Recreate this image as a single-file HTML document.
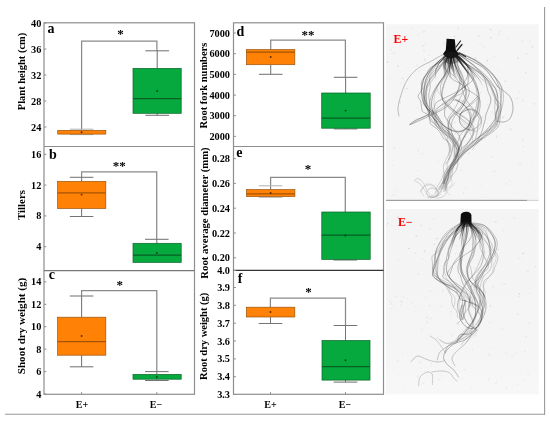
<!DOCTYPE html>
<html><head><meta charset="utf-8"><title>Figure</title>
<style>
html,body{margin:0;padding:0;background:#fff;}
body{width:550px;height:422px;overflow:hidden;}
svg{display:block;}
svg text{font-family:"Liberation Serif","DejaVu Serif",serif;font-weight:bold;}
</style></head><body>
<svg width="550" height="422" viewBox="0 0 550 422">
<rect width="550" height="422" fill="#fff"/>
<rect x="386" y="24.3" width="152.6" height="176.2" fill="#f5f5f5"/>
<defs><linearGradient id="bg2" x1="0" y1="0" x2="0" y2="1"><stop offset="0" stop-color="#f4f4f4"/><stop offset="0.8" stop-color="#f5f5f5"/><stop offset="1" stop-color="#f9f9f9"/></linearGradient></defs>
<rect x="386" y="209" width="152.6" height="185.3" fill="url(#bg2)"/>
<line x1="386" y1="200.3" x2="527" y2="200.3" stroke="#888" stroke-width="1"/><line x1="527" y1="200.3" x2="538.6" y2="200.3" stroke="#ccc" stroke-width="1"/>
<defs><linearGradient id="fd" x1="0" y1="0" x2="0" y2="1"><stop offset="0" stop-color="#111" stop-opacity="0.85"/><stop offset="0.5" stop-color="#111" stop-opacity="0.55"/><stop offset="1" stop-color="#111" stop-opacity="0"/></linearGradient></defs>
<filter id="bl" x="-5%" y="-5%" width="110%" height="110%"><feGaussianBlur stdDeviation="0.35"/></filter>
<g fill="none" stroke-linecap="round" stroke-linejoin="round" filter="url(#bl)">
<path d="M455.4 122.3l-0.9 0.2" stroke="#555" stroke-width="0.5" stroke-opacity="0.28"/>
<path d="M475.5 57.8l-0.0 1.2" stroke="#555" stroke-width="0.5" stroke-opacity="0.35"/>
<path d="M402.0 78.2l1.3 0.4" stroke="#555" stroke-width="0.5" stroke-opacity="0.32"/>
<path d="M394.2 194.9l-1.2 0.1" stroke="#555" stroke-width="0.5" stroke-opacity="0.30"/>
<path d="M411.5 28.6l-0.0 0.5" stroke="#555" stroke-width="0.5" stroke-opacity="0.20"/>
<path d="M424.0 31.2l0.1 0.9" stroke="#555" stroke-width="0.5" stroke-opacity="0.36"/>
<path d="M465.3 136.1l0.0 1.2" stroke="#555" stroke-width="0.5" stroke-opacity="0.26"/>
<path d="M429.4 197.6l-1.4 0.0" stroke="#555" stroke-width="0.5" stroke-opacity="0.33"/>
<path d="M435.0 65.5l0.3 0.4" stroke="#555" stroke-width="0.5" stroke-opacity="0.34"/>
<path d="M447.7 171.6l0.5 1.5" stroke="#555" stroke-width="0.5" stroke-opacity="0.36"/>
<path d="M388.1 62.1l-0.9 0.3" stroke="#555" stroke-width="0.5" stroke-opacity="0.40"/>
<path d="M447.2 38.6l-0.5 1.2" stroke="#555" stroke-width="0.5" stroke-opacity="0.22"/>
<path d="M401.0 83.2l-1.3 0.1" stroke="#555" stroke-width="0.5" stroke-opacity="0.18"/>
<path d="M424.7 43.4l1.3 0.3" stroke="#555" stroke-width="0.5" stroke-opacity="0.19"/>
<path d="M471.3 103.0l1.1 0.7" stroke="#555" stroke-width="0.5" stroke-opacity="0.18"/>
<path d="M483.9 46.0l0.2 0.6" stroke="#555" stroke-width="0.5" stroke-opacity="0.22"/>
<path d="M532.7 164.2l0.8 1.2" stroke="#555" stroke-width="0.5" stroke-opacity="0.20"/>
<path d="M446.7 173.0l-0.2 0.5" stroke="#555" stroke-width="0.5" stroke-opacity="0.40"/>
<path d="M419.8 70.4l-0.6 0.5" stroke="#555" stroke-width="0.5" stroke-opacity="0.22"/>
<path d="M398.9 41.5l-0.2 0.7" stroke="#555" stroke-width="0.5" stroke-opacity="0.30"/>
<path d="M443.4 104.0l-1.0 0.1" stroke="#555" stroke-width="0.5" stroke-opacity="0.29"/>
<path d="M517.1 57.4l1.3 0.7" stroke="#555" stroke-width="0.5" stroke-opacity="0.35"/>
<path d="M425.2 58.6l-1.0 1.1" stroke="#555" stroke-width="0.5" stroke-opacity="0.20"/>
<path d="M529.6 177.7l-0.3 0.9" stroke="#555" stroke-width="0.5" stroke-opacity="0.18"/>
<path d="M393.8 191.6l0.9 0.8" stroke="#555" stroke-width="0.5" stroke-opacity="0.21"/>
<path d="M510.7 128.6l0.4 0.5" stroke="#555" stroke-width="0.5" stroke-opacity="0.33"/>
<path d="M398.2 65.3l-0.3 1.4" stroke="#555" stroke-width="0.5" stroke-opacity="0.30"/>
<path d="M429.8 183.8l0.3 0.3" stroke="#555" stroke-width="0.5" stroke-opacity="0.22"/>
<path d="M454.4 36.4l0.7 0.4" stroke="#555" stroke-width="0.5" stroke-opacity="0.29"/>
<path d="M407.6 88.3l-1.5 0.5" stroke="#555" stroke-width="0.5" stroke-opacity="0.31"/>
<path d="M491.0 126.5l0.4 0.2" stroke="#555" stroke-width="0.5" stroke-opacity="0.15"/>
<path d="M523.6 146.6l-0.4 0.0" stroke="#555" stroke-width="0.5" stroke-opacity="0.31"/>
<path d="M459.9 151.6l0.9 1.3" stroke="#555" stroke-width="0.5" stroke-opacity="0.17"/>
<path d="M469.4 152.8l-1.2 0.4" stroke="#555" stroke-width="0.5" stroke-opacity="0.33"/>
<path d="M506.2 183.4l0.5 1.1" stroke="#555" stroke-width="0.5" stroke-opacity="0.38"/>
<path d="M517.8 97.8l-1.1 0.9" stroke="#555" stroke-width="0.5" stroke-opacity="0.29"/>
<path d="M481.1 91.8l-0.3 1.1" stroke="#555" stroke-width="0.5" stroke-opacity="0.17"/>
<path d="M483.3 196.9l-1.2 0.5" stroke="#555" stroke-width="0.5" stroke-opacity="0.25"/>
<path d="M497.5 125.9l0.3 1.4" stroke="#555" stroke-width="0.5" stroke-opacity="0.17"/>
<path d="M499.8 31.1l-0.3 0.9" stroke="#555" stroke-width="0.5" stroke-opacity="0.21"/>
<path d="M492.1 111.5l-0.5 1.4" stroke="#555" stroke-width="0.5" stroke-opacity="0.21"/>
<path d="M389.7 77.8l-0.3 0.5" stroke="#555" stroke-width="0.5" stroke-opacity="0.19"/>
<path d="M523.0 139.5l0.3 1.4" stroke="#555" stroke-width="0.5" stroke-opacity="0.23"/>
<path d="M487.2 60.1l0.3 1.3" stroke="#555" stroke-width="0.5" stroke-opacity="0.38"/>
<path d="M519.2 92.1l-0.2 0.8" stroke="#555" stroke-width="0.5" stroke-opacity="0.18"/>
<path d="M462.0 170.0l-1.1 0.6" stroke="#555" stroke-width="0.5" stroke-opacity="0.39"/>
<path d="M429.2 55.1l0.1 0.7" stroke="#555" stroke-width="0.5" stroke-opacity="0.20"/>
<path d="M449.7 133.6l0.0 0.8" stroke="#555" stroke-width="0.5" stroke-opacity="0.36"/>
<path d="M534.3 103.8l0.4 0.1" stroke="#555" stroke-width="0.5" stroke-opacity="0.37"/>
<path d="M394.2 147.9l-0.2 0.8" stroke="#555" stroke-width="0.5" stroke-opacity="0.35"/>
<path d="M390.8 49.4l0.1 0.4" stroke="#555" stroke-width="0.5" stroke-opacity="0.36"/>
<path d="M423.4 50.2l1.1 0.2" stroke="#555" stroke-width="0.5" stroke-opacity="0.26"/>
<path d="M481.9 138.7l-1.3 0.9" stroke="#555" stroke-width="0.5" stroke-opacity="0.32"/>
<path d="M417.7 107.7l0.3 0.2" stroke="#555" stroke-width="0.5" stroke-opacity="0.27"/>
<path d="M494.4 56.8l0.5 0.6" stroke="#555" stroke-width="0.5" stroke-opacity="0.32"/>
<path d="M465.5 131.7l-0.6 0.6" stroke="#555" stroke-width="0.5" stroke-opacity="0.35"/>
<path d="M523.0 41.0l-1.2 0.3" stroke="#555" stroke-width="0.5" stroke-opacity="0.18"/>
<path d="M455.6 133.6l-0.8 0.2" stroke="#555" stroke-width="0.5" stroke-opacity="0.29"/>
<path d="M519.0 163.0l-0.9 0.2" stroke="#555" stroke-width="0.5" stroke-opacity="0.31"/>
<path d="M418.5 150.2l-1.0 0.6" stroke="#555" stroke-width="0.5" stroke-opacity="0.33"/>
<path d="M419.8 180.8l-1.6 0.1" stroke="#555" stroke-width="0.5" stroke-opacity="0.28"/>
<path d="M505.8 81.1l-1.4 0.4" stroke="#555" stroke-width="0.5" stroke-opacity="0.24"/>
<path d="M400.3 101.8l-0.2 1.3" stroke="#555" stroke-width="0.5" stroke-opacity="0.27"/>
<path d="M392.2 165.2l1.3 0.3" stroke="#555" stroke-width="0.5" stroke-opacity="0.19"/>
<path d="M437.9 161.5l0.5 0.2" stroke="#555" stroke-width="0.5" stroke-opacity="0.28"/>
<path d="M495.8 170.5l-0.9 1.3" stroke="#555" stroke-width="0.5" stroke-opacity="0.27"/>
<path d="M529.4 40.8l0.8 0.7" stroke="#555" stroke-width="0.5" stroke-opacity="0.22"/>
<path d="M496.6 135.9l-0.1 1.4" stroke="#555" stroke-width="0.5" stroke-opacity="0.29"/>
<path d="M434.4 91.6l-1.3 0.7" stroke="#555" stroke-width="0.5" stroke-opacity="0.20"/>
<path d="M514.8 192.6l-0.1 1.1" stroke="#555" stroke-width="0.5" stroke-opacity="0.20"/>
<path d="M467.8 112.5l-0.1 0.4" stroke="#555" stroke-width="0.5" stroke-opacity="0.39"/>
<path d="M464.9 94.9l-0.9 0.6" stroke="#555" stroke-width="0.5" stroke-opacity="0.27"/>
<path d="M491.0 37.3l-0.1 0.9" stroke="#555" stroke-width="0.5" stroke-opacity="0.39"/>
<path d="M525.6 72.3l0.0 0.6" stroke="#555" stroke-width="0.5" stroke-opacity="0.26"/>
<path d="M509.5 180.9l0.1 0.8" stroke="#555" stroke-width="0.5" stroke-opacity="0.20"/>
<path d="M480.1 185.1l1.2 0.5" stroke="#555" stroke-width="0.5" stroke-opacity="0.16"/>
<path d="M416.9 65.1l-0.4 0.7" stroke="#555" stroke-width="0.5" stroke-opacity="0.24"/>
<path d="M480.3 44.0l-0.4 0.4" stroke="#555" stroke-width="0.5" stroke-opacity="0.28"/>
<path d="M425.3 60.0l-0.1 0.9" stroke="#555" stroke-width="0.5" stroke-opacity="0.24"/>
<path d="M449.6 117.0l0.6 0.3" stroke="#555" stroke-width="0.5" stroke-opacity="0.31"/>
<path d="M483.1 117.1l-1.0 0.5" stroke="#555" stroke-width="0.5" stroke-opacity="0.36"/>
<path d="M422.7 153.4l-1.2 0.8" stroke="#555" stroke-width="0.5" stroke-opacity="0.23"/>
<path d="M434.9 184.7l1.2 1.0" stroke="#555" stroke-width="0.5" stroke-opacity="0.37"/>
<path d="M408.0 67.2l-0.5 0.5" stroke="#555" stroke-width="0.5" stroke-opacity="0.17"/>
<path d="M512.0 98.5l-0.4 0.3" stroke="#555" stroke-width="0.5" stroke-opacity="0.25"/>
<path d="M490.1 29.1l1.0 0.7" stroke="#555" stroke-width="0.5" stroke-opacity="0.38"/>
<path d="M532.3 45.9l-0.0 1.3" stroke="#555" stroke-width="0.5" stroke-opacity="0.28"/>
<path d="M490.2 58.5l0.5 0.1" stroke="#555" stroke-width="0.5" stroke-opacity="0.16"/>
<path d="M470.2 114.5l-0.1 0.6" stroke="#555" stroke-width="0.5" stroke-opacity="0.20"/>
<path d="M418.4 170.5l-1.5 0.0" stroke="#555" stroke-width="0.5" stroke-opacity="0.17"/>
<path d="M397.2 189.7l0.2 1.3" stroke="#555" stroke-width="0.5" stroke-opacity="0.23"/>
<path d="M457.6 114.6l0.2 1.1" stroke="#555" stroke-width="0.5" stroke-opacity="0.15"/>
<path d="M492.5 171.2l0.8 0.5" stroke="#555" stroke-width="0.5" stroke-opacity="0.33"/>
<path d="M448.4 59.6l0.9 0.5" stroke="#555" stroke-width="0.5" stroke-opacity="0.15"/>
<path d="M521.1 163.9l-0.9 1.1" stroke="#555" stroke-width="0.5" stroke-opacity="0.31"/>
<path d="M448.3 129.1l-0.0 1.6" stroke="#555" stroke-width="0.5" stroke-opacity="0.35"/>
<path d="M426.5 182.7l-0.9 1.0" stroke="#555" stroke-width="0.5" stroke-opacity="0.35"/>
<path d="M448.4 180.2l-1.1 0.5" stroke="#555" stroke-width="0.5" stroke-opacity="0.34"/>
<path d="M502.0 95.8l-0.3 0.4" stroke="#555" stroke-width="0.5" stroke-opacity="0.24"/>
<path d="M457.9 27.8l0.5 1.0" stroke="#555" stroke-width="0.5" stroke-opacity="0.31"/>
<path d="M422.6 188.5l-0.4 0.7" stroke="#555" stroke-width="0.5" stroke-opacity="0.31"/>
<path d="M472.9 117.7l0.5 1.5" stroke="#555" stroke-width="0.5" stroke-opacity="0.31"/>
<path d="M492.5 157.0l-0.4 0.0" stroke="#555" stroke-width="0.5" stroke-opacity="0.30"/>
<path d="M498.1 70.1l0.1 0.4" stroke="#555" stroke-width="0.5" stroke-opacity="0.20"/>
<path d="M444.0 42.9l1.0 1.1" stroke="#555" stroke-width="0.5" stroke-opacity="0.29"/>
<path d="M463.7 192.3l-0.3 1.6" stroke="#555" stroke-width="0.5" stroke-opacity="0.31"/>
<path d="M508.6 39.1l-0.4 1.3" stroke="#555" stroke-width="0.5" stroke-opacity="0.16"/>
<path d="M526.6 53.5l0.1 0.6" stroke="#555" stroke-width="0.5" stroke-opacity="0.27"/>
<path d="M479.1 36.1l-0.9 0.2" stroke="#555" stroke-width="0.5" stroke-opacity="0.28"/>
<path d="M477.1 88.9l0.7 0.9" stroke="#555" stroke-width="0.5" stroke-opacity="0.29"/>
<path d="M430.2 149.3l0.2 0.3" stroke="#555" stroke-width="0.5" stroke-opacity="0.21"/>
<path d="M394.4 52.9l-0.6 0.6" stroke="#555" stroke-width="0.5" stroke-opacity="0.37"/>
<path d="M499.5 34.6l-1.5 0.1" stroke="#555" stroke-width="0.5" stroke-opacity="0.17"/>
<path d="M522.9 99.9l0.1 1.6" stroke="#555" stroke-width="0.5" stroke-opacity="0.21"/>
<path d="M466.0 187.2l-0.6 0.7" stroke="#555" stroke-width="0.5" stroke-opacity="0.39"/>
<path d="M509.7 129.8l1.1 0.4" stroke="#555" stroke-width="0.5" stroke-opacity="0.26"/>
<path d="M418.3 35.0l-0.0 0.5" stroke="#555" stroke-width="0.5" stroke-opacity="0.26"/>
<path d="M487.5 104.4l0.7 0.8" stroke="#555" stroke-width="0.5" stroke-opacity="0.25"/>
<path d="M503.9 117.3l-1.5 0.0" stroke="#555" stroke-width="0.5" stroke-opacity="0.33"/>
<path d="M423.5 45.6l-1.3 0.4" stroke="#555" stroke-width="0.5" stroke-opacity="0.31"/>
<path d="M449.7 53.9C449.1 54.6 447.6 56.6 445.9 58.0C444.2 59.4 441.8 60.9 439.7 62.2C437.6 63.6 435.0 64.5 433.2 66.1C431.5 67.7 430.7 70.0 429.3 71.7C427.9 73.5 425.7 75.2 424.7 76.8C423.7 78.4 423.9 79.8 423.4 81.5C422.9 83.2 421.9 85.3 421.6 87.0C421.2 88.7 421.0 89.9 421.3 91.6C421.6 93.3 422.8 95.3 423.2 97.0C423.5 98.8 423.0 100.7 423.4 102.2C423.7 103.7 424.4 104.6 425.3 106.1C426.1 107.6 427.6 109.6 428.5 111.2C429.4 112.8 429.4 114.0 430.6 115.7C431.9 117.4 434.7 119.3 436.2 121.2C437.7 123.0 438.2 125.1 439.4 126.9C440.6 128.8 442.1 130.7 443.4 132.3C444.7 133.8 446.4 134.8 447.2 136.5C447.9 138.1 447.4 140.4 447.8 142.2C448.1 144.0 449.0 145.4 449.2 147.1C449.5 148.8 449.3 151.4 449.3 152.3" stroke="#1a1a1a" stroke-width="0.63" stroke-opacity="0.31"/>
<path d="M452.0 52.2C451.5 53.2 450.6 56.0 448.9 58.0C447.2 60.0 444.1 62.1 441.8 64.0C439.5 65.9 437.1 67.8 435.2 69.6C433.3 71.5 431.5 73.4 430.6 75.1C429.6 76.7 429.6 77.9 429.5 79.8C429.5 81.7 430.2 84.7 430.2 86.4C430.2 88.1 429.9 88.7 429.7 90.0C429.4 91.4 428.9 93.2 428.8 94.8C428.7 96.4 428.9 98.0 429.1 99.6C429.3 101.2 429.8 102.6 429.9 104.3C430.0 106.0 429.7 108.0 429.5 109.8C429.4 111.7 428.9 113.8 429.0 115.6C429.1 117.3 429.0 118.6 430.2 120.2C431.3 121.8 434.2 123.6 435.9 125.2C437.5 126.8 438.8 128.0 440.0 129.6C441.3 131.2 442.4 132.9 443.6 134.8C444.8 136.7 446.2 139.1 447.2 140.9C448.1 142.7 448.8 143.7 449.3 145.5C449.8 147.4 450.5 150.2 450.4 151.8C450.2 153.3 449.2 153.2 448.3 154.8C447.4 156.5 445.8 159.9 445.0 161.6C444.2 163.4 443.7 164.0 443.5 165.4C443.2 166.7 443.6 168.3 443.6 169.8C443.6 171.3 443.6 172.7 443.3 174.3C442.9 176.0 442.2 177.9 441.4 179.6C440.6 181.3 439.4 183.1 438.5 184.6C437.7 186.2 436.5 188.1 436.1 188.7" stroke="#1a1a1a" stroke-width="0.49" stroke-opacity="0.47"/>
<path d="M451.8 53.6C451.0 54.4 449.0 56.3 446.7 58.0C444.3 59.7 440.4 61.9 437.6 63.6C434.8 65.3 431.7 66.4 429.9 68.2C428.0 70.0 427.6 72.8 426.5 74.4C425.5 76.1 424.6 76.8 423.7 78.2C422.8 79.7 421.5 81.3 421.2 83.0C421.0 84.7 422.2 87.0 422.2 88.4C422.1 89.8 421.6 90.2 420.9 91.5C420.2 92.8 418.2 94.7 418.1 96.3C418.1 97.9 420.0 99.5 420.6 101.1C421.1 102.6 421.0 103.9 421.3 105.6C421.6 107.4 421.5 110.1 422.6 111.5C423.6 113.0 426.3 113.1 427.5 114.3C428.8 115.5 429.4 117.2 429.9 118.9C430.4 120.5 429.5 122.5 430.7 124.1C431.8 125.7 434.9 127.0 436.6 128.5C438.2 130.0 439.3 131.4 440.4 133.0C441.5 134.6 441.8 136.5 443.2 138.1C444.6 139.7 447.6 140.7 448.8 142.4C450.1 144.0 450.7 146.1 450.7 147.9C450.7 149.7 449.1 151.4 448.9 153.1C448.7 154.8 449.8 156.2 449.3 158.0C448.7 159.9 446.2 163.1 445.6 164.1" stroke="#1a1a1a" stroke-width="0.52" stroke-opacity="0.50"/>
<path d="M453.5 53.1C453.7 54.0 453.4 56.5 454.6 58.0C455.9 59.5 458.8 60.7 461.2 62.2C463.6 63.7 466.6 65.1 469.1 66.8C471.5 68.6 473.9 70.7 476.0 72.7C478.0 74.7 479.5 77.0 481.3 78.6C483.0 80.2 484.8 81.1 486.4 82.6C487.9 84.0 489.9 85.8 490.8 87.2C491.8 88.7 491.5 89.7 492.1 91.3C492.6 93.0 493.3 95.5 494.2 97.0C495.1 98.5 496.1 98.9 497.2 100.3C498.3 101.7 500.2 103.7 500.8 105.5C501.4 107.2 501.1 109.1 500.8 111.0C500.4 113.0 499.4 115.2 498.8 117.1C498.1 119.0 497.8 120.5 496.8 122.4C495.8 124.2 494.8 126.3 492.9 128.1C491.0 130.0 487.5 131.6 485.4 133.4C483.2 135.3 481.6 137.4 480.1 139.3C478.5 141.2 477.6 143.1 476.2 144.9C474.9 146.6 472.6 148.9 471.9 149.7" stroke="#1a1a1a" stroke-width="0.55" stroke-opacity="0.33"/>
<path d="M450.5 52.7C451.5 53.5 454.5 56.3 456.9 58.0C459.4 59.7 462.8 61.5 465.3 63.1C467.9 64.7 470.1 65.9 472.3 67.4C474.5 69.0 476.7 70.8 478.6 72.5C480.4 74.2 481.7 76.0 483.3 77.7C485.0 79.4 487.5 81.2 488.7 82.8C489.9 84.4 489.8 85.5 490.6 87.1C491.4 88.7 492.6 90.9 493.5 92.4C494.3 93.9 495.3 94.6 495.6 96.1C495.9 97.7 494.6 99.8 495.1 101.8C495.5 103.8 498.2 106.2 498.2 108.1C498.2 110.0 495.6 111.4 495.3 113.2C494.9 114.9 496.5 116.8 496.0 118.4C495.5 120.0 493.7 120.9 492.3 122.7C490.9 124.5 488.8 127.3 487.6 129.1C486.4 130.8 486.8 131.3 485.1 132.9C483.3 134.6 478.3 137.9 477.0 138.9" stroke="#1a1a1a" stroke-width="0.61" stroke-opacity="0.28"/>
<path d="M451.1 53.1C451.9 53.9 454.0 56.3 456.4 58.0C458.8 59.7 462.4 61.7 465.2 63.6C468.0 65.4 470.7 67.4 473.2 69.1C475.8 70.8 478.3 72.1 480.6 73.7C482.8 75.3 485.0 77.0 486.7 78.6C488.4 80.3 489.4 81.8 490.9 83.5C492.4 85.2 494.9 87.0 495.9 88.9C497.0 90.8 497.1 93.3 497.3 95.0C497.5 96.7 496.7 97.4 497.0 99.2C497.2 101.0 498.8 104.1 498.8 105.9C498.8 107.7 497.4 108.6 497.0 110.1C496.5 111.6 496.3 112.9 496.1 114.8C495.9 116.7 496.7 119.7 495.9 121.6C495.1 123.4 492.7 124.6 491.5 126.1C490.3 127.7 490.2 129.1 488.8 131.0C487.4 132.9 484.8 135.9 482.8 137.6C480.8 139.3 478.6 139.6 476.9 141.1C475.2 142.6 474.6 144.7 472.7 146.4C470.8 148.1 467.9 149.6 465.7 151.4C463.5 153.2 460.8 155.5 459.4 157.3C458.0 159.0 458.3 160.1 457.3 161.8C456.2 163.6 453.9 165.7 453.1 167.8C452.3 169.9 452.7 172.3 452.3 174.3C451.9 176.2 451.5 177.7 450.7 179.4C449.8 181.1 448.1 182.7 447.2 184.5C446.4 186.3 445.7 189.4 445.4 190.3" stroke="#1a1a1a" stroke-width="0.68" stroke-opacity="0.38"/>
<path d="M449.4 52.9C450.8 53.7 454.8 56.2 457.6 58.0C460.4 59.8 463.3 61.7 466.0 63.4C468.7 65.1 471.1 66.5 473.6 68.2C476.1 69.8 479.1 71.6 480.9 73.2C482.8 74.9 483.7 76.6 484.5 78.1C485.3 79.6 485.2 80.7 485.6 82.2C486.1 83.7 486.6 85.4 487.0 87.0C487.4 88.7 487.7 90.5 488.3 92.2C488.9 93.9 490.3 95.8 490.6 97.4C491.0 99.1 490.9 100.5 490.6 102.3C490.2 104.0 489.4 105.7 488.6 107.8C487.9 109.8 486.6 112.5 486.0 114.4C485.5 116.3 485.6 117.3 485.3 119.1C484.9 120.8 484.2 122.9 483.7 124.7C483.2 126.6 482.9 128.5 482.3 130.4C481.7 132.2 481.0 133.9 480.1 135.7C479.2 137.5 478.4 139.6 477.0 141.2C475.5 142.8 473.6 143.6 471.6 145.3C469.6 147.0 466.7 149.5 464.8 151.2C462.9 152.9 461.3 154.0 460.2 155.7C459.0 157.3 458.2 159.7 457.8 161.1C457.4 162.6 458.2 162.7 457.8 164.4C457.4 166.1 456.7 169.2 455.6 171.2C454.5 173.2 452.5 174.5 451.1 176.2C449.7 177.9 448.2 179.6 447.4 181.2C446.5 182.9 446.3 184.4 446.0 186.0C445.7 187.6 445.7 190.1 445.7 190.9" stroke="#1a1a1a" stroke-width="0.57" stroke-opacity="0.50"/>
<path d="M453.1 53.9C452.4 54.6 450.2 56.4 449.4 58.0C448.6 59.6 448.6 61.8 448.2 63.7C447.9 65.5 447.8 67.2 447.1 69.1C446.5 71.0 445.2 73.4 444.5 74.9C443.9 76.4 443.7 76.8 443.0 78.1C442.3 79.4 441.3 81.2 440.3 82.8C439.3 84.4 437.3 86.2 437.0 87.8C436.8 89.5 437.8 91.0 438.8 92.7C439.8 94.3 441.8 96.3 442.9 97.7C444.0 99.0 444.0 99.3 445.3 100.9C446.7 102.5 449.4 105.1 451.2 107.1C453.1 109.2 455.2 111.2 456.5 113.1C457.8 115.0 458.0 116.8 459.2 118.3C460.3 119.9 461.9 120.6 463.5 122.5C465.2 124.3 467.9 127.4 469.0 129.3C470.1 131.1 469.6 132.2 470.2 133.6C470.7 135.0 472.1 136.2 472.4 137.7C472.8 139.2 472.3 141.9 472.2 142.7" stroke="#1a1a1a" stroke-width="0.47" stroke-opacity="0.27"/>
<path d="M453.0 53.7C451.7 54.4 446.9 56.5 445.3 58.0C443.7 59.5 443.9 61.2 443.7 62.7C443.4 64.1 443.1 65.3 443.8 66.8C444.6 68.3 446.3 69.9 448.2 71.6C450.1 73.3 453.3 75.0 455.2 76.9C457.1 78.8 458.0 81.3 459.6 83.0C461.2 84.7 464.2 85.5 464.6 87.1C465.1 88.8 464.2 91.2 462.4 92.8C460.7 94.5 456.6 95.6 454.0 97.1C451.4 98.7 449.7 100.2 446.8 102.1C443.9 104.0 438.9 106.7 436.6 108.6C434.3 110.6 433.4 112.3 432.9 113.9C432.5 115.4 433.8 116.7 434.1 118.1C434.4 119.4 434.2 120.5 434.8 122.1C435.4 123.6 436.3 125.6 437.8 127.4C439.3 129.2 442.3 131.5 444.0 133.0C445.7 134.6 446.6 135.3 447.8 136.8C449.0 138.2 449.7 139.7 451.2 141.7C452.6 143.7 455.6 147.1 456.5 148.8C457.4 150.5 456.7 150.6 456.5 152.0C456.3 153.5 455.5 155.5 455.2 157.4C455.0 159.3 455.7 161.7 455.1 163.4C454.5 165.2 452.6 166.3 451.8 167.9C451.0 169.5 450.3 171.0 450.2 172.9C450.0 174.7 451.3 177.1 450.9 178.9C450.5 180.6 448.6 181.7 447.8 183.5C447.1 185.2 446.5 188.4 446.3 189.4" stroke="#1a1a1a" stroke-width="0.62" stroke-opacity="0.34"/>
<path d="M452.4 53.5C453.8 54.2 458.6 56.3 460.9 58.0C463.2 59.7 464.8 61.6 466.0 63.5C467.2 65.3 467.7 67.4 468.0 68.9C468.4 70.5 468.3 71.4 468.1 73.0C467.9 74.6 467.4 76.7 466.6 78.4C465.9 80.0 464.4 81.3 463.6 83.0C462.9 84.6 462.0 86.3 462.1 88.3C462.1 90.3 463.2 92.9 463.9 94.9C464.7 96.9 465.7 98.8 466.5 100.3C467.4 101.8 468.0 102.4 469.0 103.8C470.0 105.1 471.3 106.5 472.6 108.2C473.8 109.9 475.4 112.1 476.5 113.8C477.6 115.4 478.8 116.7 479.1 118.3C479.4 119.8 478.5 121.4 478.2 123.1C477.9 124.9 477.8 127.2 477.6 128.9C477.3 130.6 477.3 131.6 476.9 133.4C476.4 135.2 476.1 138.1 474.8 139.9C473.5 141.7 470.8 142.6 469.1 144.2C467.4 145.8 465.8 147.7 464.6 149.5C463.3 151.3 462.7 153.5 461.6 154.9C460.6 156.4 459.8 156.6 458.4 158.2C457.0 159.8 454.5 162.9 453.2 164.6C451.8 166.2 450.9 166.6 450.2 168.0C449.4 169.4 449.1 171.0 448.7 172.8C448.3 174.6 448.4 177.1 447.9 178.7C447.4 180.2 446.8 180.8 445.8 182.1C444.7 183.5 442.9 185.4 441.8 186.8C440.6 188.2 439.4 189.7 438.9 190.3" stroke="#1a1a1a" stroke-width="0.53" stroke-opacity="0.48"/>
<path d="M450.3 52.3C451.4 53.3 455.2 56.1 457.0 58.0C458.7 59.9 459.5 61.7 460.8 63.5C462.1 65.3 463.6 67.2 464.7 68.8C465.9 70.5 467.1 71.7 467.7 73.4C468.3 75.1 468.2 77.2 468.2 79.0C468.1 80.8 468.5 82.6 467.4 84.3C466.3 85.9 463.5 87.3 461.6 88.9C459.7 90.6 457.7 92.4 455.9 94.0C454.1 95.6 452.4 96.9 450.7 98.5C449.0 100.1 446.5 101.7 445.6 103.6C444.6 105.4 445.1 107.7 444.9 109.6C444.7 111.4 444.1 113.2 444.4 114.7C444.6 116.2 445.3 117.0 446.2 118.4C447.1 119.7 448.7 121.5 449.7 123.0C450.6 124.4 450.9 125.7 451.9 127.1C452.8 128.4 454.2 129.5 455.4 130.9C456.6 132.4 458.4 133.9 459.2 135.8C460.1 137.7 460.1 140.4 460.5 142.2C460.9 143.9 461.8 144.6 461.8 146.1C461.8 147.7 461.1 149.8 460.6 151.4C460.0 153.0 459.1 154.1 458.5 155.8C458.0 157.5 457.8 160.0 457.1 161.5C456.4 162.9 455.1 163.3 454.4 164.6C453.6 165.8 453.2 167.2 452.5 169.0C451.7 170.7 451.0 173.1 450.0 175.1C449.0 177.1 447.3 179.4 446.5 181.0C445.7 182.6 446.1 183.6 445.2 184.9C444.4 186.2 442.1 188.1 441.4 188.8" stroke="#1a1a1a" stroke-width="0.54" stroke-opacity="0.53"/>
<path d="M452.1 53.2C452.4 54.0 453.0 56.5 453.5 58.0C454.0 59.5 454.5 60.9 455.3 62.4C456.1 63.9 457.4 65.6 458.2 67.0C459.1 68.4 459.9 69.2 460.6 70.8C461.3 72.4 461.8 74.6 462.4 76.6C462.9 78.6 463.5 81.1 464.0 82.8C464.5 84.6 465.5 85.4 465.4 87.0C465.3 88.5 464.4 90.2 463.5 92.1C462.6 94.0 461.1 96.1 460.1 98.2C459.0 100.2 457.8 102.7 457.0 104.4C456.1 106.1 455.6 107.2 454.8 108.5C454.1 109.8 453.4 111.0 452.4 112.4C451.4 113.7 449.8 115.0 449.0 116.6C448.1 118.1 447.3 120.1 447.3 121.8C447.3 123.4 448.2 125.1 448.8 126.7C449.4 128.2 450.5 129.7 451.2 131.2C451.9 132.7 452.6 134.1 452.9 135.8C453.3 137.4 453.3 139.6 453.3 141.2C453.2 142.8 452.7 144.1 452.6 145.6C452.5 147.0 452.8 148.3 452.5 150.1C452.2 151.9 451.5 154.3 450.8 156.1C450.1 158.0 449.0 159.8 448.4 161.2C447.8 162.7 447.3 163.5 447.1 164.8C446.9 166.1 447.2 167.5 447.3 169.0C447.4 170.5 448.0 172.0 447.8 173.8C447.6 175.6 447.1 177.9 446.2 179.6C445.3 181.4 443.5 182.7 442.2 184.2C440.9 185.6 439.2 187.5 438.6 188.2" stroke="#1a1a1a" stroke-width="0.61" stroke-opacity="0.33"/>
<path d="M451.4 53.9C452.8 54.5 457.3 56.4 459.6 58.0C462.0 59.6 463.7 61.8 465.4 63.7C467.0 65.6 468.7 67.5 469.7 69.2C470.7 70.9 470.8 72.3 471.5 73.9C472.1 75.4 474.0 76.6 473.5 78.3C473.1 80.0 470.7 82.2 468.8 83.9C466.9 85.5 464.8 86.7 462.2 88.4C459.6 90.0 456.4 92.1 453.3 93.7C450.3 95.4 446.8 96.8 444.0 98.2C441.2 99.7 438.1 100.9 436.4 102.5C434.7 104.2 434.8 106.4 434.0 108.2C433.2 110.0 431.8 111.5 431.8 113.2C431.8 115.0 432.6 116.9 434.0 118.7C435.4 120.5 438.7 122.0 440.3 123.8C441.9 125.6 441.9 127.8 443.4 129.4C444.9 131.1 447.5 132.1 449.4 133.8C451.3 135.4 453.8 137.2 454.8 139.1C455.7 141.0 454.7 143.6 455.2 145.3C455.6 146.9 457.1 148.6 457.4 149.3" stroke="#1a1a1a" stroke-width="0.69" stroke-opacity="0.36"/>
<path d="M449.4 52.8C450.0 53.7 452.0 56.2 452.8 58.0C453.7 59.8 453.8 61.9 454.5 63.5C455.2 65.2 456.1 66.5 457.3 68.1C458.4 69.7 460.5 71.5 461.5 73.2C462.5 74.8 463.0 76.4 463.4 78.1C463.8 79.9 464.2 81.8 463.9 83.5C463.7 85.3 463.2 87.0 461.9 88.7C460.6 90.5 458.1 92.5 455.8 94.3C453.6 96.1 451.0 97.8 448.5 99.7C446.0 101.5 442.6 103.7 440.6 105.5C438.7 107.2 437.7 108.2 436.9 109.9C436.1 111.6 436.1 113.7 436.0 115.7C435.9 117.6 435.9 120.0 436.3 121.6C436.6 123.2 437.0 123.7 438.2 125.2C439.3 126.6 441.4 128.8 443.1 130.3C444.8 131.8 446.5 132.5 448.2 134.3C449.9 136.1 452.3 139.1 453.3 141.0C454.2 142.9 453.8 143.9 454.0 145.6C454.2 147.4 454.3 149.6 454.4 151.5C454.5 153.3 454.7 154.7 454.4 156.7C454.1 158.7 453.3 161.7 452.7 163.5C452.1 165.2 451.3 166.0 450.7 167.2C450.1 168.3 449.3 168.8 448.9 170.3C448.5 171.8 448.4 174.2 448.3 176.0C448.1 177.8 448.5 179.4 448.1 181.0C447.8 182.6 447.0 183.8 446.2 185.5C445.5 187.2 443.9 190.4 443.5 191.3" stroke="#1a1a1a" stroke-width="0.47" stroke-opacity="0.35"/>
<path d="M452.0 52.9C451.2 53.7 448.5 56.4 447.5 58.0C446.5 59.6 446.5 60.8 446.0 62.2C445.6 63.6 444.8 64.9 444.9 66.3C445.0 67.7 446.0 69.3 446.7 70.7C447.3 72.1 447.7 73.3 448.8 74.8C449.9 76.4 451.4 78.4 453.4 79.9C455.4 81.4 458.8 82.3 461.0 83.9C463.2 85.5 464.8 87.9 466.7 89.4C468.6 90.8 470.5 91.3 472.5 92.7C474.5 94.1 477.6 95.9 478.9 97.7C480.2 99.4 480.1 101.3 480.3 103.2C480.4 105.2 480.0 107.5 479.6 109.4C479.2 111.3 479.0 113.3 477.9 114.8C476.8 116.2 474.6 116.7 473.2 118.4C471.8 120.0 470.8 122.6 469.5 124.4C468.2 126.2 467.0 127.1 465.4 129.1C463.8 131.0 461.0 133.8 459.7 135.9C458.5 137.9 459.1 139.3 458.0 141.2C456.8 143.1 453.9 145.7 452.9 147.3C451.9 148.9 452.1 149.2 451.7 150.5C451.4 151.8 451.4 153.5 450.9 155.0C450.3 156.5 448.9 158.8 448.5 159.6" stroke="#1a1a1a" stroke-width="0.69" stroke-opacity="0.37"/>
<path d="M449.3 53.7C448.2 55.5 445.3 61.0 442.6 64.7C440.0 68.4 435.8 72.4 433.2 75.9C430.6 79.3 428.4 81.5 427.0 85.5C425.7 89.4 424.6 95.4 424.9 99.7C425.2 104.1 426.7 107.6 428.8 111.5C430.9 115.4 434.7 119.8 437.6 123.1C440.4 126.4 443.1 128.7 445.8 131.5C448.5 134.3 451.6 136.9 453.8 139.8C455.9 142.8 458.7 145.6 458.9 149.1C459.0 152.6 456.6 156.9 454.7 160.8C452.9 164.8 449.7 168.8 447.9 172.6C446.1 176.4 444.7 181.7 444.1 183.5" stroke="#1a1a1a" stroke-width="0.58" stroke-opacity="0.53"/>
<path d="M449.3 53.7C447.9 55.7 443.3 61.8 440.7 66.0C438.0 70.1 435.6 75.0 433.4 78.6C431.2 82.3 428.5 83.9 427.3 87.8C426.2 91.7 426.3 97.5 426.6 101.9C426.8 106.3 427.0 110.2 428.6 114.2C430.2 118.2 433.8 122.6 436.4 125.9C439.0 129.1 441.2 131.2 444.2 133.7C447.1 136.3 451.7 138.4 454.1 141.1C456.5 143.8 458.5 146.3 458.4 149.8C458.3 153.3 455.4 158.0 453.5 162.1C451.5 166.2 448.5 170.5 446.8 174.5C445.1 178.4 443.7 183.9 443.1 185.8" stroke="#1a1a1a" stroke-width="0.75" stroke-opacity="0.29"/>
<path d="M449.3 53.7C447.9 55.5 443.8 61.1 440.9 64.8C438.0 68.5 434.2 72.5 431.9 76.0C429.6 79.5 427.8 81.8 426.9 85.8C425.9 89.8 425.7 95.8 426.4 100.1C427.0 104.4 429.1 107.9 430.7 111.7C432.4 115.6 433.8 119.8 436.1 123.1C438.4 126.5 441.7 128.8 444.5 131.7C447.3 134.6 450.7 137.4 453.1 140.4C455.5 143.4 458.7 146.2 458.9 149.7C459.0 153.2 456.2 157.5 454.2 161.4C452.2 165.3 448.6 169.2 446.8 173.0C445.1 176.7 444.3 181.9 443.8 183.6" stroke="#1a1a1a" stroke-width="0.60" stroke-opacity="0.33"/>
<path d="M410.0 124.7C412.2 123.5 418.1 119.9 423.3 117.3C428.5 114.6 436.1 112.0 441.1 108.7C446.1 105.5 450.1 101.9 453.5 97.7C456.8 93.4 460.1 88.1 461.1 83.4C462.1 78.7 460.7 73.7 459.5 69.4C458.2 65.1 454.4 59.4 453.4 57.3" stroke="#1a1a1a" stroke-width="0.52" stroke-opacity="0.35"/>
<path d="M410.0 124.7C412.6 123.6 419.3 120.8 425.4 117.8C431.5 114.9 441.4 110.8 446.5 106.9C451.7 103.0 453.9 99.0 456.1 94.6C458.4 90.2 459.6 85.3 460.0 80.6C460.3 75.9 458.4 70.8 458.0 66.4C457.5 62.0 457.3 56.3 457.2 54.3" stroke="#1a1a1a" stroke-width="0.66" stroke-opacity="0.44"/>
<path d="M451.6 55.0C451.3 57.5 450.9 65.1 449.5 70.2C448.1 75.2 444.6 80.3 443.4 85.1C442.2 90.0 440.6 95.1 442.4 99.3C444.1 103.5 449.7 107.1 453.9 110.4C458.0 113.7 463.9 116.1 467.3 119.2C470.7 122.2 473.6 125.3 474.1 128.6C474.7 131.9 473.0 135.6 470.8 139.1C468.6 142.6 462.4 147.7 460.7 149.5" stroke="#1a1a1a" stroke-width="0.40" stroke-opacity="0.43"/>
<path d="M451.6 55.0C451.3 57.6 451.0 65.6 449.6 70.6C448.3 75.7 444.9 80.7 443.7 85.5C442.5 90.4 441.0 95.4 442.6 99.8C444.2 104.2 449.7 108.4 453.3 111.9C456.9 115.5 461.0 118.1 464.3 121.1C467.6 124.2 472.3 126.9 473.1 130.2C473.9 133.5 470.9 137.5 469.0 141.0C467.1 144.5 463.0 149.6 461.8 151.3" stroke="#1a1a1a" stroke-width="0.51" stroke-opacity="0.51"/>
<path d="M451.6 55.0C451.1 57.5 450.5 65.2 448.6 70.2C446.8 75.3 441.6 80.3 440.7 85.1C439.7 90.0 440.7 95.0 443.0 99.3C445.2 103.6 450.1 107.4 454.1 110.8C458.1 114.2 463.8 116.7 467.0 119.8C470.3 122.8 473.1 125.7 473.8 129.0C474.4 132.3 473.1 136.1 470.9 139.6C468.7 143.1 462.2 148.3 460.5 150.0" stroke="#1a1a1a" stroke-width="0.65" stroke-opacity="0.31"/>
<path d="M455.0 55.0C456.6 57.2 461.4 63.8 464.4 68.0C467.4 72.2 471.0 75.7 473.2 80.1C475.3 84.5 476.8 89.8 477.2 94.5C477.7 99.3 477.0 104.2 475.8 108.5C474.6 112.8 471.6 116.8 470.2 120.3C468.7 123.8 468.6 126.3 467.2 129.6C465.9 132.8 463.9 136.2 462.2 139.8C460.6 143.5 459.3 147.5 457.4 151.6C455.5 155.7 452.8 160.1 450.9 164.3C448.9 168.6 447.3 173.0 445.5 177.1C443.7 181.2 441.0 187.0 440.1 189.0" stroke="#1a1a1a" stroke-width="0.75" stroke-opacity="0.30"/>
<path d="M455.0 55.0C456.7 57.2 461.8 64.0 465.0 68.1C468.2 72.1 471.9 75.2 474.2 79.5C476.5 83.8 478.0 89.2 478.6 93.9C479.1 98.6 478.5 103.6 477.6 107.9C476.8 112.2 474.9 116.2 473.4 119.8C471.8 123.4 470.3 126.1 468.5 129.5C466.6 132.9 464.2 136.4 462.4 140.3C460.6 144.1 459.7 148.3 457.8 152.6C455.9 156.9 452.6 161.5 450.9 166.0C449.2 170.5 448.8 175.0 447.7 179.3C446.6 183.5 444.7 189.4 444.1 191.4" stroke="#1a1a1a" stroke-width="0.70" stroke-opacity="0.47"/>
<path d="M455.0 55.0C456.7 57.2 462.3 64.0 465.3 68.3C468.3 72.5 470.8 76.0 473.1 80.4C475.3 84.8 478.2 89.9 479.1 94.6C479.9 99.4 478.9 104.3 478.1 108.7C477.2 113.0 475.5 117.1 473.9 120.7C472.4 124.3 470.9 126.8 469.0 130.1C467.1 133.4 464.1 136.7 462.3 140.4C460.5 144.0 460.2 148.1 458.3 152.1C456.4 156.2 452.6 160.5 450.9 164.7C449.1 168.9 449.2 173.3 448.0 177.4C446.7 181.5 444.1 187.2 443.4 189.2" stroke="#1a1a1a" stroke-width="0.63" stroke-opacity="0.40"/>
<path d="M457.6 53.7C460.3 55.7 468.7 61.3 474.0 65.5C479.3 69.8 485.4 74.6 489.2 79.2C493.0 83.7 495.5 88.4 496.9 93.0C498.3 97.6 498.2 102.2 497.7 106.9C497.2 111.6 496.1 117.1 493.7 121.4C491.4 125.7 487.5 128.8 483.5 132.7C479.6 136.6 473.9 141.0 469.9 145.0C466.0 149.1 462.9 152.7 459.8 156.7C456.8 160.7 454.5 165.2 451.8 169.2C449.2 173.2 446.6 177.0 443.9 180.8C441.2 184.7 436.8 190.6 435.4 192.5" stroke="#1a1a1a" stroke-width="0.62" stroke-opacity="0.41"/>
<path d="M457.6 53.7C460.3 55.7 469.1 61.1 474.0 65.5C479.0 69.9 483.7 75.4 487.2 80.3C490.7 85.2 493.0 90.3 494.9 95.1C496.7 99.9 498.1 104.5 498.2 109.2C498.4 114.0 498.1 119.5 495.8 123.5C493.4 127.5 488.6 129.7 484.2 133.3C479.7 136.9 473.4 141.0 468.9 145.0C464.5 149.1 460.6 153.3 457.5 157.6C454.3 162.0 452.0 166.9 450.1 171.3C448.1 175.6 447.9 179.5 445.7 183.5C443.5 187.6 438.3 193.5 436.8 195.5" stroke="#1a1a1a" stroke-width="0.66" stroke-opacity="0.36"/>
<path d="M457.6 53.7C460.2 55.7 468.1 61.1 473.3 65.7C478.5 70.2 485.2 76.1 488.7 81.1C492.3 86.1 493.5 90.8 494.5 95.6C495.5 100.3 494.8 104.8 494.8 109.6C494.8 114.3 496.5 119.9 494.6 124.0C492.6 128.1 487.2 130.6 483.2 134.1C479.2 137.6 474.8 141.3 470.4 145.1C466.1 148.9 461.0 152.8 457.2 157.1C453.4 161.4 450.2 166.4 447.7 170.7C445.2 175.1 444.2 179.0 442.2 183.2C440.2 187.3 436.7 193.5 435.6 195.6" stroke="#1a1a1a" stroke-width="0.57" stroke-opacity="0.33"/>
<path d="M458.8 52.5C461.7 53.9 470.8 57.7 476.2 61.1C481.7 64.6 487.3 68.9 491.5 73.1C495.7 77.3 499.6 82.0 501.5 86.6C503.5 91.2 503.6 95.9 503.3 100.6C503.0 105.3 500.9 110.3 499.7 114.7C498.5 119.1 498.8 123.1 496.0 127.0C493.2 131.0 487.2 134.7 482.8 138.3C478.3 142.0 473.4 145.5 469.3 149.0C465.2 152.4 461.7 155.6 458.4 159.3C455.1 163.0 451.6 167.3 449.3 171.3C446.9 175.4 445.2 181.5 444.4 183.6" stroke="#1a1a1a" stroke-width="0.75" stroke-opacity="0.27"/>
<path d="M458.8 52.5C461.7 53.9 470.9 57.9 476.1 61.1C481.3 64.4 485.8 67.9 489.9 72.1C494.0 76.3 498.9 81.4 500.7 86.1C502.5 90.8 501.1 95.6 500.8 100.3C500.5 105.0 499.8 110.0 499.0 114.3C498.1 118.6 498.4 122.3 495.6 126.3C492.9 130.2 487.1 133.9 482.4 137.8C477.7 141.7 471.5 146.1 467.3 149.8C463.2 153.6 460.9 156.6 457.5 160.2C454.1 163.9 449.3 167.7 447.1 171.5C444.8 175.4 444.5 181.3 444.0 183.3" stroke="#1a1a1a" stroke-width="0.70" stroke-opacity="0.32"/>
<path d="M458.8 52.5C461.9 53.9 471.8 57.7 477.3 61.1C482.9 64.6 488.5 69.0 492.2 73.3C495.8 77.6 497.6 82.5 499.1 87.2C500.5 91.8 500.9 96.6 501.1 101.3C501.3 105.9 500.9 111.0 500.3 115.3C499.8 119.7 500.3 123.7 497.5 127.5C494.8 131.3 488.4 134.6 483.6 138.3C478.8 141.9 472.8 145.7 468.7 149.3C464.6 152.9 462.2 156.1 459.1 159.8C455.9 163.5 452.4 167.5 449.8 171.4C447.2 175.3 444.3 181.3 443.3 183.2" stroke="#1a1a1a" stroke-width="0.48" stroke-opacity="0.53"/>
<path d="M459.8 114.0C461.4 113.3 466.1 109.7 469.1 109.7C472.2 109.6 476.1 111.6 478.2 113.9C480.2 116.2 481.9 120.5 481.6 123.4C481.3 126.3 478.9 130.2 476.4 131.1C473.9 131.9 469.4 130.2 466.6 128.5C463.8 126.8 460.3 123.4 459.5 120.6C458.7 117.9 460.0 114.4 461.8 111.9C463.7 109.3 467.7 107.6 470.5 105.3C473.4 103.0 477.5 99.2 478.9 98.0" stroke="#1a1a1a" stroke-width="0.53" stroke-opacity="0.29"/>
<path d="M459.8 114.0C461.4 113.2 466.2 109.3 469.3 109.1C472.4 108.9 476.4 110.5 478.3 112.6C480.3 114.8 482.0 119.4 481.1 122.2C480.1 125.1 475.5 128.8 472.6 129.7C469.7 130.6 466.0 129.3 463.8 127.8C461.7 126.3 459.8 123.4 459.5 120.7C459.3 118.0 460.3 114.3 462.1 111.6C463.9 108.8 467.8 106.6 470.3 104.1C472.8 101.6 476.2 97.9 477.3 96.7" stroke="#1a1a1a" stroke-width="0.54" stroke-opacity="0.55"/>
<path d="M452.0 56.0C451.1 58.6 449.1 66.4 446.5 71.7C443.9 77.0 438.8 82.3 436.3 87.7C433.7 93.0 431.4 98.9 431.4 103.9C431.3 108.9 433.6 113.6 436.1 117.6C438.6 121.5 442.6 125.0 446.3 127.4C450.0 129.9 454.4 132.2 458.1 132.1C461.8 132.0 466.4 129.6 468.4 126.8C470.3 123.9 470.8 118.6 469.9 114.9C469.1 111.1 465.8 106.9 463.4 104.4C460.9 101.9 456.6 100.5 455.3 99.7" stroke="#1a1a1a" stroke-width="0.71" stroke-opacity="0.50"/>
<path d="M452.0 56.0C451.2 58.7 450.2 66.6 447.4 72.0C444.6 77.4 438.1 83.0 435.1 88.4C432.1 93.8 429.3 99.5 429.6 104.5C429.9 109.4 434.1 114.4 436.9 118.3C439.8 122.2 442.9 125.7 446.7 127.9C450.5 130.0 456.0 131.8 459.7 131.3C463.3 130.8 466.6 128.0 468.5 125.0C470.3 121.9 472.1 116.6 470.9 112.9C469.8 109.3 464.6 105.4 461.6 103.1C458.6 100.9 454.5 100.1 453.1 99.5" stroke="#1a1a1a" stroke-width="0.62" stroke-opacity="0.35"/>
<path d="M452.0 56.0C451.1 58.7 449.0 66.5 446.4 72.0C443.9 77.4 438.8 83.2 436.7 88.6C434.7 94.1 433.6 99.7 434.0 104.7C434.4 109.7 436.7 114.7 439.0 118.5C441.3 122.4 444.3 125.7 447.8 127.8C451.3 130.0 456.3 131.6 460.0 131.2C463.7 130.8 467.5 128.2 469.8 125.3C472.1 122.3 474.5 117.1 473.9 113.4C473.2 109.7 468.9 105.5 466.0 103.1C463.1 100.8 457.9 100.0 456.3 99.4" stroke="#1a1a1a" stroke-width="0.45" stroke-opacity="0.29"/>
<path d="M453.0 56.0C454.0 59.1 456.2 68.8 458.9 74.5C461.6 80.3 468.6 85.1 469.2 90.5C469.8 95.9 465.2 102.1 462.5 106.9C459.8 111.6 454.7 114.7 452.9 119.1C451.1 123.4 450.5 128.6 451.6 133.0C452.6 137.3 458.5 141.1 459.2 145.1C459.8 149.1 456.1 155.1 455.5 157.1" stroke="#1a1a1a" stroke-width="0.66" stroke-opacity="0.38"/>
<path d="M453.0 56.0C454.0 59.0 456.6 68.3 458.8 74.0C460.9 79.7 465.6 85.0 466.0 90.4C466.3 95.8 463.5 101.6 460.9 106.2C458.3 110.7 452.2 113.5 450.2 117.8C448.3 122.0 448.4 127.4 449.3 131.7C450.2 136.1 454.7 139.9 455.8 143.9C456.8 147.9 455.5 153.8 455.5 155.8" stroke="#1a1a1a" stroke-width="0.54" stroke-opacity="0.41"/>
<path d="M453.0 56.0C453.7 59.0 455.0 68.6 457.2 74.3C459.3 79.9 465.1 84.6 466.0 90.0C466.9 95.3 465.3 101.5 462.6 106.3C460.0 111.1 452.6 114.4 450.2 118.8C447.8 123.2 447.7 128.6 448.3 132.9C449.0 137.2 453.0 140.6 454.0 144.6C454.9 148.6 454.0 154.7 454.0 156.7" stroke="#1a1a1a" stroke-width="0.50" stroke-opacity="0.56"/>
<path d="M448.0 54.0C446.0 55.6 439.8 60.0 436.2 63.8C432.7 67.7 428.8 72.3 426.7 77.2C424.6 82.1 423.5 88.1 423.8 93.1C424.0 98.1 426.4 103.8 428.4 107.2C430.4 110.6 433.3 110.4 435.8 113.5C438.4 116.6 441.3 122.2 444.0 125.9C446.7 129.6 449.2 132.2 451.8 135.9C454.4 139.6 458.8 144.0 459.3 148.0C459.9 151.9 457.6 155.7 455.3 159.5C452.9 163.4 447.3 167.3 445.3 171.2C443.3 175.1 443.5 181.0 443.2 183.0" stroke="#1a1a1a" stroke-width="0.66" stroke-opacity="0.46"/>
<path d="M448.0 54.0C446.0 55.7 439.3 60.3 435.8 64.3C432.2 68.3 428.8 73.1 426.8 78.1C424.9 83.0 424.0 89.0 424.0 94.0C423.9 99.0 425.0 104.6 426.6 108.0C428.2 111.4 431.3 111.3 433.4 114.4C435.6 117.5 436.7 123.1 439.3 126.8C441.9 130.6 446.1 133.2 449.0 136.9C451.9 140.5 455.6 145.0 456.8 148.9C457.9 152.9 457.5 156.6 455.8 160.5C454.1 164.4 448.9 168.2 446.6 172.1C444.3 176.0 442.9 182.0 442.1 183.9" stroke="#1a1a1a" stroke-width="0.50" stroke-opacity="0.49"/>
<path d="M448.0 54.0C446.2 55.7 440.6 60.2 437.3 64.2C434.0 68.2 430.5 73.1 428.2 78.0C425.9 83.0 423.8 88.8 423.5 93.7C423.3 98.7 424.5 104.5 426.5 108.0C428.6 111.4 432.9 111.3 435.6 114.4C438.3 117.4 439.8 122.9 442.7 126.4C445.6 129.9 450.4 132.0 452.9 135.4C455.5 138.8 457.4 142.9 457.9 146.7C458.3 150.6 457.7 154.4 455.6 158.5C453.6 162.6 447.3 167.0 445.4 171.2C443.5 175.3 444.5 181.3 444.3 183.3" stroke="#1a1a1a" stroke-width="0.55" stroke-opacity="0.37"/>
<path d="M451.5 52.0C452.5 53.0 455.8 56.0 457.4 58.0C459.0 60.0 459.4 61.7 461.1 64.0C462.8 66.3 465.8 69.3 467.4 72.0C469.1 74.7 470.3 78.7 470.9 80.0" stroke="url(#fd)" stroke-width="0.78"/>
<path d="M452.0 52.0C451.5 53.0 449.5 56.0 449.0 58.0C448.5 60.0 448.8 61.7 449.0 64.0C449.1 66.3 449.7 69.3 449.8 72.0C450.0 74.7 450.0 78.7 450.0 80.0" stroke="url(#fd)" stroke-width="0.92"/>
<path d="M450.8 52.0C450.8 53.0 450.5 56.0 450.6 58.0C450.8 60.0 451.0 61.7 451.4 64.0C451.8 66.3 452.8 70.7 453.0 72.0" stroke="url(#fd)" stroke-width="1.09"/>
<path d="M450.4 52.0C452.1 53.0 458.0 56.0 460.7 58.0C463.4 60.0 464.6 61.7 466.7 64.0C468.8 66.3 471.2 69.3 473.3 72.0C475.5 74.7 477.9 77.3 479.6 80.0C481.3 82.7 482.9 86.7 483.5 88.0" stroke="url(#fd)" stroke-width="0.83"/>
<path d="M449.3 52.0C449.5 53.0 450.6 56.0 450.5 58.0C450.4 60.0 448.8 61.7 448.7 64.0C448.6 66.3 449.5 69.3 450.0 72.0C450.4 74.7 451.2 78.7 451.5 80.0" stroke="url(#fd)" stroke-width="0.80"/>
<path d="M449.0 52.0C450.2 53.0 454.4 56.0 456.1 58.0C457.9 60.0 459.0 63.0 459.6 64.0" stroke="url(#fd)" stroke-width="0.97"/>
<path d="M452.4 52.0C451.6 53.0 448.8 56.0 447.5 58.0C446.1 60.0 444.6 61.7 444.1 64.0C443.5 66.3 444.2 69.3 444.3 72.0C444.3 74.7 444.4 78.7 444.4 80.0" stroke="url(#fd)" stroke-width="1.03"/>
<path d="M448.1 52.0C450.0 53.0 456.5 56.0 459.4 58.0C462.2 60.0 463.5 61.7 465.5 64.0C467.6 66.3 469.9 69.3 471.8 72.0C473.7 74.7 475.9 78.7 476.7 80.0" stroke="url(#fd)" stroke-width="0.99"/>
<path d="M448.7 52.0C448.6 53.0 448.5 56.0 448.0 58.0C447.5 60.0 445.9 61.7 445.5 64.0C445.1 66.3 445.6 70.7 445.6 72.0" stroke="url(#fd)" stroke-width="0.86"/>
<path d="M449.5 52.0C449.2 53.0 448.3 56.0 447.6 58.0C446.9 60.0 445.5 61.7 445.2 64.0C444.8 66.3 445.2 69.3 445.5 72.0C445.8 74.7 446.7 78.7 447.0 80.0" stroke="url(#fd)" stroke-width="0.88"/>
<path d="M448.6 52.0C449.1 53.0 451.0 56.0 451.3 58.0C451.6 60.0 450.0 61.7 450.3 64.0C450.6 66.3 452.5 69.3 453.2 72.0C454.0 74.7 454.5 78.7 454.8 80.0" stroke="url(#fd)" stroke-width="0.80"/>
<path d="M453.8 52.0C453.7 53.0 453.3 56.0 453.4 58.0C453.6 60.0 453.9 61.7 454.7 64.0C455.5 66.3 456.7 69.3 458.0 72.0C459.3 74.7 461.7 78.7 462.4 80.0" stroke="url(#fd)" stroke-width="0.97"/>
<path d="M451.2 52.0C451.8 53.0 453.5 56.0 454.6 58.0C455.7 60.0 457.3 63.0 457.9 64.0" stroke="url(#fd)" stroke-width="0.75"/>
<path d="M453.1 52.0C454.1 53.0 457.1 56.0 459.3 58.0C461.4 60.0 463.9 61.7 466.0 64.0C468.1 66.3 469.9 69.3 471.9 72.0C473.9 74.7 477.0 78.7 478.0 80.0" stroke="url(#fd)" stroke-width="0.66"/>
<path d="M450.9 52.0C452.3 53.0 457.0 56.0 459.4 58.0C461.8 60.0 463.3 61.7 465.3 64.0C467.3 66.3 470.4 70.7 471.4 72.0" stroke="url(#fd)" stroke-width="0.88"/>
<path d="M450.4 52.0C450.5 53.0 450.8 56.0 451.2 58.0C451.6 60.0 452.1 61.7 452.5 64.0C452.9 66.3 453.1 69.3 453.7 72.0C454.4 74.7 456.0 78.7 456.5 80.0" stroke="url(#fd)" stroke-width="0.81"/>
<path d="M450.6 52.0C450.7 53.0 451.0 56.0 451.0 58.0C451.0 60.0 450.2 61.7 450.7 64.0C451.1 66.3 453.2 70.7 453.7 72.0" stroke="url(#fd)" stroke-width="0.63"/>
<path d="M450.4 52.0C450.6 53.0 451.2 56.0 451.6 58.0C451.9 60.0 451.7 61.7 452.3 64.0C452.9 66.3 454.5 70.7 455.0 72.0" stroke="url(#fd)" stroke-width="0.76"/>
<path d="M452.5 52.0C452.3 53.0 451.5 56.0 451.2 58.0C450.9 60.0 450.9 63.0 450.8 64.0" stroke="url(#fd)" stroke-width="0.80"/>
<path d="M451.6 52.0C453.1 53.0 458.3 56.0 460.7 58.0C463.1 60.0 465.0 63.0 465.9 64.0" stroke="url(#fd)" stroke-width="0.90"/>
<path d="M451.7 52.0C451.3 53.0 449.9 56.0 449.3 58.0C448.6 60.0 448.1 63.0 447.9 64.0" stroke="url(#fd)" stroke-width="0.85"/>
<path d="M448.3 52.0C448.8 53.0 450.5 56.0 451.1 58.0C451.8 60.0 451.7 61.7 452.2 64.0C452.7 66.3 453.4 69.3 454.4 72.0C455.3 74.7 457.3 78.7 457.9 80.0" stroke="url(#fd)" stroke-width="0.81"/>
<path d="M449.7 52.0C451.2 53.0 456.2 56.0 458.3 58.0C460.4 60.0 460.5 61.7 462.3 64.0C464.1 66.3 468.0 70.7 469.2 72.0" stroke="url(#fd)" stroke-width="1.02"/>
<path d="M452.9 52.0C452.2 53.0 449.8 56.0 448.8 58.0C447.9 60.0 447.5 61.7 447.2 64.0C446.8 66.3 446.7 70.7 446.6 72.0" stroke="url(#fd)" stroke-width="0.98"/>
<path d="M451.3 52.0C450.1 53.0 446.1 56.0 444.0 58.0C441.9 60.0 440.2 61.7 438.7 64.0C437.3 66.3 435.8 69.3 435.4 72.0C435.0 74.7 436.1 78.7 436.3 80.0" stroke="url(#fd)" stroke-width="0.98"/>
<path d="M452.4 52.0C452.5 53.0 452.4 56.0 452.8 58.0C453.2 60.0 454.5 63.0 454.8 64.0" stroke="url(#fd)" stroke-width="1.09"/>
<path d="M452.7 52.0C453.7 53.0 456.9 56.0 459.0 58.0C461.0 60.0 464.0 63.0 465.0 64.0" stroke="url(#fd)" stroke-width="0.79"/>
<path d="M448.7 52.0C449.0 53.0 449.9 56.0 450.3 58.0C450.6 60.0 450.7 61.7 450.9 64.0C451.1 66.3 451.3 70.7 451.3 72.0" stroke="url(#fd)" stroke-width="0.66"/>
<path d="M451.3 52.0C452.2 53.0 455.3 56.0 457.0 58.0C458.7 60.0 459.9 61.7 461.5 64.0C463.2 66.3 465.1 69.3 467.0 72.0C468.9 74.7 472.0 78.7 472.9 80.0" stroke="url(#fd)" stroke-width="0.88"/>
<path d="M450.5 52.0C451.9 53.0 456.8 56.0 459.2 58.0C461.7 60.0 464.3 63.0 465.3 64.0" stroke="url(#fd)" stroke-width="0.66"/>
<path d="M447.0 54.0C446.3 54.1 445.6 53.3 443.0 54.5C440.4 55.7 435.8 58.6 431.5 61.0C427.2 63.4 421.1 65.7 417.0 69.0C412.9 72.3 409.3 76.5 406.6 81.0C403.9 85.5 402.1 91.5 400.7 96.0C399.3 100.5 398.3 104.7 398.0 108.0C397.7 111.3 398.8 114.7 399.0 116.0" stroke="#1a1a1a" stroke-width="0.60" stroke-opacity="0.40"/>
<path d="M446.0 55.0C444.0 56.8 437.6 61.8 434.0 65.5C430.4 69.2 426.5 73.1 424.4 77.4C422.3 81.8 421.7 87.2 421.6 91.6C421.5 96.0 422.6 100.6 424.0 104.0C425.4 107.4 430.0 109.9 430.0 112.0C430.0 114.1 426.3 115.3 424.0 116.6C421.7 117.9 418.3 118.8 416.0 120.0C413.7 121.2 411.0 123.3 410.0 124.0" stroke="#1a1a1a" stroke-width="0.70" stroke-opacity="0.55"/>
<path d="M497.8 86.8C499.8 88.4 507.2 92.8 509.7 96.3C512.2 99.8 513.0 104.3 513.0 108.0C513.0 111.7 511.6 116.2 510.0 118.5C508.4 120.8 505.9 121.6 503.7 122.0C501.5 122.4 498.1 121.2 497.0 121.0" stroke="#1a1a1a" stroke-width="0.60" stroke-opacity="0.50"/>
<path d="M457.6 53.7C460.0 54.9 467.1 58.1 471.8 60.8C476.5 63.5 481.7 65.7 486.0 70.0C490.3 74.3 495.8 84.0 497.8 86.8" stroke="#1a1a1a" stroke-width="0.70" stroke-opacity="0.55"/>
<path d="M446.0 178.0C445.5 179.3 444.0 183.5 443.0 186.0C442.0 188.5 441.5 191.2 440.0 193.0C438.5 194.8 436.0 196.5 434.0 197.0C432.0 197.5 429.2 197.0 428.0 196.0C426.8 195.0 426.3 192.3 427.0 191.0C427.7 189.7 430.2 188.0 432.0 188.0C433.8 188.0 437.2 189.7 438.0 191.0C438.8 192.3 438.3 194.8 437.0 196.0C435.7 197.2 431.2 197.7 430.0 198.0" stroke="#1a1a1a" stroke-width="0.60" stroke-opacity="0.50"/>
<path d="M415.0 181.0C415.8 181.5 418.5 182.7 420.0 184.0C421.5 185.3 422.7 187.2 424.0 189.0C425.3 190.8 426.2 193.6 428.0 195.0C429.8 196.4 432.8 197.7 435.0 197.5C437.2 197.3 440.0 194.6 441.0 194.0" stroke="#1a1a1a" stroke-width="0.50" stroke-opacity="0.40"/>
<path d="M420.0 192.0C420.7 191.2 422.3 188.2 424.0 187.0C425.7 185.8 428.0 184.8 430.0 185.0C432.0 185.2 434.7 186.7 436.0 188.0C437.3 189.3 437.7 192.2 438.0 193.0" stroke="#1a1a1a" stroke-width="0.50" stroke-opacity="0.35"/>
<path d="M445.0 185.0C445.3 185.8 447.2 188.2 447.0 190.0C446.8 191.8 445.7 194.6 444.0 196.0C442.3 197.4 438.2 198.1 437.0 198.5" stroke="#1a1a1a" stroke-width="0.50" stroke-opacity="0.45"/>
<path d="M440.0 186.0C441.0 186.3 444.0 188.0 446.0 188.0C448.0 188.0 450.5 186.8 452.0 186.0C453.5 185.2 454.5 183.5 455.0 183.0" stroke="#1a1a1a" stroke-width="0.40" stroke-opacity="0.35"/>
<path d="M414.7 180.0C415.2 179.8 416.8 178.3 418.0 178.5C419.2 178.7 420.8 179.8 422.0 181.0C423.2 182.2 424.0 184.2 425.0 186.0C426.0 187.8 426.7 190.3 428.0 192.0C429.3 193.7 431.3 195.5 433.0 196.0C434.7 196.5 437.2 195.2 438.0 195.0" stroke="#1a1a1a" stroke-width="0.50" stroke-opacity="0.40"/>
<path d="M424.0 196.0C423.5 195.2 421.0 192.7 421.0 191.0C421.0 189.3 422.5 187.2 424.0 186.0C425.5 184.8 428.2 183.8 430.0 184.0C431.8 184.2 434.0 185.7 435.0 187.0C436.0 188.3 436.5 190.5 436.0 192.0C435.5 193.5 433.5 195.1 432.0 196.0C430.5 196.9 427.8 197.2 427.0 197.5" stroke="#1a1a1a" stroke-width="0.50" stroke-opacity="0.40"/>
<path d="M449.0 176.0C449.5 176.8 451.7 179.2 452.0 181.0C452.3 182.8 451.8 185.2 451.0 187.0C450.2 188.8 447.2 190.7 447.0 192.0C446.8 193.3 449.5 194.5 450.0 195.0" stroke="#1a1a1a" stroke-width="0.40" stroke-opacity="0.35"/>
<path d="M446.6 38.8L454.8 39.2L455.8 50L459.5 54.5L455 57.5L450.5 58.5L446 57L443 54L445.8 50Z" fill="#111" stroke="none"/>
<path d="M456 47L460.5 41M457 50.5L462 44.5M459 53L465.5 56.5" stroke="#222" stroke-width="1.2"/>
<ellipse cx="451.5" cy="58" rx="9" ry="6" fill="#222" fill-opacity="0.35" stroke="none"/>
<path d="M518.2 296.5l0.9 0.1" stroke="#555" stroke-width="0.5" stroke-opacity="0.24"/>
<path d="M488.5 379.0l0.0 1.2" stroke="#555" stroke-width="0.5" stroke-opacity="0.25"/>
<path d="M504.0 230.0l-0.4 0.4" stroke="#555" stroke-width="0.5" stroke-opacity="0.30"/>
<path d="M418.1 273.7l0.7 0.4" stroke="#555" stroke-width="0.5" stroke-opacity="0.30"/>
<path d="M465.5 281.3l-0.3 1.4" stroke="#555" stroke-width="0.5" stroke-opacity="0.24"/>
<path d="M475.0 298.0l-0.8 0.0" stroke="#555" stroke-width="0.5" stroke-opacity="0.32"/>
<path d="M422.8 258.3l-0.7 0.8" stroke="#555" stroke-width="0.5" stroke-opacity="0.21"/>
<path d="M397.6 360.3l0.5 1.2" stroke="#555" stroke-width="0.5" stroke-opacity="0.26"/>
<path d="M480.0 312.3l-1.5 0.1" stroke="#555" stroke-width="0.5" stroke-opacity="0.26"/>
<path d="M460.5 252.9l-0.4 0.4" stroke="#555" stroke-width="0.5" stroke-opacity="0.23"/>
<path d="M514.3 217.3l-0.6 0.9" stroke="#555" stroke-width="0.5" stroke-opacity="0.29"/>
<path d="M437.6 238.4l-1.3 0.2" stroke="#555" stroke-width="0.5" stroke-opacity="0.35"/>
<path d="M402.6 352.9l0.5 0.4" stroke="#555" stroke-width="0.5" stroke-opacity="0.28"/>
<path d="M478.9 232.9l-0.8 0.7" stroke="#555" stroke-width="0.5" stroke-opacity="0.37"/>
<path d="M525.7 335.8l0.6 1.4" stroke="#555" stroke-width="0.5" stroke-opacity="0.33"/>
<path d="M431.3 366.2l-0.5 0.5" stroke="#555" stroke-width="0.5" stroke-opacity="0.21"/>
<path d="M391.0 308.2l0.5 0.5" stroke="#555" stroke-width="0.5" stroke-opacity="0.21"/>
<path d="M407.6 298.8l0.5 0.6" stroke="#555" stroke-width="0.5" stroke-opacity="0.22"/>
<path d="M463.9 369.2l1.3 0.7" stroke="#555" stroke-width="0.5" stroke-opacity="0.36"/>
<path d="M478.8 309.4l-0.7 0.8" stroke="#555" stroke-width="0.5" stroke-opacity="0.31"/>
<path d="M525.0 351.3l0.3 0.3" stroke="#555" stroke-width="0.5" stroke-opacity="0.38"/>
<path d="M442.0 353.5l0.7 0.6" stroke="#555" stroke-width="0.5" stroke-opacity="0.24"/>
<path d="M496.7 381.8l-0.0 1.1" stroke="#555" stroke-width="0.5" stroke-opacity="0.24"/>
<path d="M422.6 382.9l1.4 0.5" stroke="#555" stroke-width="0.5" stroke-opacity="0.31"/>
<path d="M398.7 374.2l1.0 0.3" stroke="#555" stroke-width="0.5" stroke-opacity="0.18"/>
<path d="M535.3 267.0l-0.4 0.2" stroke="#555" stroke-width="0.5" stroke-opacity="0.32"/>
<path d="M398.1 216.4l-0.3 1.5" stroke="#555" stroke-width="0.5" stroke-opacity="0.32"/>
<path d="M515.4 353.1l-0.0 0.5" stroke="#555" stroke-width="0.5" stroke-opacity="0.28"/>
<path d="M415.5 306.3l0.4 0.9" stroke="#555" stroke-width="0.5" stroke-opacity="0.20"/>
<path d="M493.1 286.5l0.0 0.5" stroke="#555" stroke-width="0.5" stroke-opacity="0.27"/>
<path d="M471.1 387.0l-0.1 0.6" stroke="#555" stroke-width="0.5" stroke-opacity="0.23"/>
<path d="M438.0 338.1l-1.5 0.3" stroke="#555" stroke-width="0.5" stroke-opacity="0.39"/>
<path d="M525.9 366.4l-0.4 0.1" stroke="#555" stroke-width="0.5" stroke-opacity="0.27"/>
<path d="M476.0 335.1l-0.4 1.1" stroke="#555" stroke-width="0.5" stroke-opacity="0.38"/>
<path d="M400.9 305.0l-0.4 0.1" stroke="#555" stroke-width="0.5" stroke-opacity="0.18"/>
<path d="M517.5 384.2l0.4 0.0" stroke="#555" stroke-width="0.5" stroke-opacity="0.36"/>
<path d="M490.6 305.1l-0.3 1.3" stroke="#555" stroke-width="0.5" stroke-opacity="0.35"/>
<path d="M388.1 223.3l-1.3 0.9" stroke="#555" stroke-width="0.5" stroke-opacity="0.36"/>
<path d="M448.7 271.7l0.2 0.4" stroke="#555" stroke-width="0.5" stroke-opacity="0.34"/>
<path d="M427.1 317.0l-0.1 0.8" stroke="#555" stroke-width="0.5" stroke-opacity="0.32"/>
<path d="M455.8 253.4l-0.6 0.2" stroke="#555" stroke-width="0.5" stroke-opacity="0.19"/>
<path d="M425.8 297.7l-0.6 0.5" stroke="#555" stroke-width="0.5" stroke-opacity="0.21"/>
<path d="M485.5 258.1l-0.1 0.7" stroke="#555" stroke-width="0.5" stroke-opacity="0.37"/>
<path d="M415.5 253.0l0.5 0.6" stroke="#555" stroke-width="0.5" stroke-opacity="0.33"/>
<path d="M488.4 354.0l-0.1 0.5" stroke="#555" stroke-width="0.5" stroke-opacity="0.34"/>
<path d="M424.4 250.4l0.4 1.5" stroke="#555" stroke-width="0.5" stroke-opacity="0.24"/>
<path d="M441.1 375.9l-0.9 0.0" stroke="#555" stroke-width="0.5" stroke-opacity="0.18"/>
<path d="M505.7 352.6l0.7 1.2" stroke="#555" stroke-width="0.5" stroke-opacity="0.24"/>
<path d="M430.8 318.4l-0.7 0.7" stroke="#555" stroke-width="0.5" stroke-opacity="0.35"/>
<path d="M390.1 301.3l0.2 0.4" stroke="#555" stroke-width="0.5" stroke-opacity="0.38"/>
<path d="M409.4 248.2l-1.4 0.6" stroke="#555" stroke-width="0.5" stroke-opacity="0.38"/>
<path d="M438.9 379.5l1.1 0.5" stroke="#555" stroke-width="0.5" stroke-opacity="0.39"/>
<path d="M416.7 235.6l-0.8 1.2" stroke="#555" stroke-width="0.5" stroke-opacity="0.33"/>
<path d="M529.4 293.1l0.2 0.5" stroke="#555" stroke-width="0.5" stroke-opacity="0.22"/>
<path d="M527.9 224.0l0.7 0.4" stroke="#555" stroke-width="0.5" stroke-opacity="0.16"/>
<path d="M433.7 244.1l1.0 0.4" stroke="#555" stroke-width="0.5" stroke-opacity="0.29"/>
<path d="M472.6 349.0l-0.1 1.5" stroke="#555" stroke-width="0.5" stroke-opacity="0.17"/>
<path d="M421.2 224.9l0.7 1.1" stroke="#555" stroke-width="0.5" stroke-opacity="0.38"/>
<path d="M463.1 240.0l0.5 0.9" stroke="#555" stroke-width="0.5" stroke-opacity="0.22"/>
<path d="M506.1 387.0l0.1 1.1" stroke="#555" stroke-width="0.5" stroke-opacity="0.36"/>
<path d="M457.3 245.5l-1.5 0.3" stroke="#555" stroke-width="0.5" stroke-opacity="0.16"/>
<path d="M501.6 283.5l0.6 0.1" stroke="#555" stroke-width="0.5" stroke-opacity="0.19"/>
<path d="M497.7 249.3l0.7 0.0" stroke="#555" stroke-width="0.5" stroke-opacity="0.35"/>
<path d="M462.4 329.2l0.1 0.6" stroke="#555" stroke-width="0.5" stroke-opacity="0.15"/>
<path d="M433.3 218.5l0.8 0.8" stroke="#555" stroke-width="0.5" stroke-opacity="0.24"/>
<path d="M458.5 323.9l0.4 0.7" stroke="#555" stroke-width="0.5" stroke-opacity="0.37"/>
<path d="M474.6 286.5l-0.1 0.9" stroke="#555" stroke-width="0.5" stroke-opacity="0.23"/>
<path d="M524.1 253.2l-1.4 0.3" stroke="#555" stroke-width="0.5" stroke-opacity="0.37"/>
<path d="M412.2 303.1l-0.7 0.0" stroke="#555" stroke-width="0.5" stroke-opacity="0.19"/>
<path d="M495.8 253.6l-0.2 0.6" stroke="#555" stroke-width="0.5" stroke-opacity="0.39"/>
<path d="M430.3 228.5l-0.5 0.7" stroke="#555" stroke-width="0.5" stroke-opacity="0.29"/>
<path d="M462.1 378.0l-0.0 0.9" stroke="#555" stroke-width="0.5" stroke-opacity="0.15"/>
<path d="M462.0 259.7l-0.3 1.1" stroke="#555" stroke-width="0.5" stroke-opacity="0.27"/>
<path d="M401.4 301.0l0.1 1.2" stroke="#555" stroke-width="0.5" stroke-opacity="0.39"/>
<path d="M429.7 291.1l1.3 0.4" stroke="#555" stroke-width="0.5" stroke-opacity="0.21"/>
<path d="M511.5 355.4l1.0 1.1" stroke="#555" stroke-width="0.5" stroke-opacity="0.28"/>
<path d="M451.5 311.5l-1.0 0.2" stroke="#555" stroke-width="0.5" stroke-opacity="0.27"/>
<path d="M431.3 363.2l-0.0 0.8" stroke="#555" stroke-width="0.5" stroke-opacity="0.20"/>
<path d="M420.1 362.0l-1.3 0.9" stroke="#555" stroke-width="0.5" stroke-opacity="0.38"/>
<path d="M490.1 355.3l-0.8 1.1" stroke="#555" stroke-width="0.5" stroke-opacity="0.35"/>
<path d="M414.3 358.5l0.4 0.6" stroke="#555" stroke-width="0.5" stroke-opacity="0.38"/>
<path d="M391.4 303.6l0.6 1.2" stroke="#555" stroke-width="0.5" stroke-opacity="0.30"/>
<path d="M523.7 379.8l-0.2 0.4" stroke="#555" stroke-width="0.5" stroke-opacity="0.32"/>
<path d="M404.3 388.8l-0.7 0.3" stroke="#555" stroke-width="0.5" stroke-opacity="0.20"/>
<path d="M491.4 348.2l-1.1 0.1" stroke="#555" stroke-width="0.5" stroke-opacity="0.18"/>
<path d="M496.3 221.6l-1.2 0.5" stroke="#555" stroke-width="0.5" stroke-opacity="0.35"/>
<path d="M518.2 314.0l-1.1 0.2" stroke="#555" stroke-width="0.5" stroke-opacity="0.27"/>
<path d="M445.3 275.0l0.6 0.0" stroke="#555" stroke-width="0.5" stroke-opacity="0.35"/>
<path d="M422.1 329.3l-0.9 0.8" stroke="#555" stroke-width="0.5" stroke-opacity="0.28"/>
<path d="M435.1 260.4l1.0 0.7" stroke="#555" stroke-width="0.5" stroke-opacity="0.32"/>
<path d="M528.4 270.8l-1.5 0.3" stroke="#555" stroke-width="0.5" stroke-opacity="0.22"/>
<path d="M529.9 323.1l-1.3 0.2" stroke="#555" stroke-width="0.5" stroke-opacity="0.23"/>
<path d="M429.6 305.6l0.0 0.4" stroke="#555" stroke-width="0.5" stroke-opacity="0.37"/>
<path d="M467.8 296.6l-0.5 0.5" stroke="#555" stroke-width="0.5" stroke-opacity="0.20"/>
<path d="M474.5 254.7l0.2 0.4" stroke="#555" stroke-width="0.5" stroke-opacity="0.16"/>
<path d="M440.9 306.4l-1.2 0.2" stroke="#555" stroke-width="0.5" stroke-opacity="0.25"/>
<path d="M448.6 253.6l0.1 1.5" stroke="#555" stroke-width="0.5" stroke-opacity="0.18"/>
<path d="M452.5 335.1l-0.8 0.7" stroke="#555" stroke-width="0.5" stroke-opacity="0.31"/>
<path d="M527.8 374.4l0.7 0.7" stroke="#555" stroke-width="0.5" stroke-opacity="0.40"/>
<path d="M466.6 245.3l-0.3 0.3" stroke="#555" stroke-width="0.5" stroke-opacity="0.19"/>
<path d="M470.1 260.3l-0.8 1.0" stroke="#555" stroke-width="0.5" stroke-opacity="0.23"/>
<path d="M502.3 328.2l-0.6 0.8" stroke="#555" stroke-width="0.5" stroke-opacity="0.26"/>
<path d="M403.9 296.9l-1.5 0.2" stroke="#555" stroke-width="0.5" stroke-opacity="0.16"/>
<path d="M398.6 259.8l-0.5 0.8" stroke="#555" stroke-width="0.5" stroke-opacity="0.18"/>
<path d="M451.4 314.7l-0.6 0.6" stroke="#555" stroke-width="0.5" stroke-opacity="0.31"/>
<path d="M489.5 322.4l1.2 0.2" stroke="#555" stroke-width="0.5" stroke-opacity="0.18"/>
<path d="M396.2 296.7l0.5 0.0" stroke="#555" stroke-width="0.5" stroke-opacity="0.25"/>
<path d="M457.8 230.1l-1.4 0.2" stroke="#555" stroke-width="0.5" stroke-opacity="0.27"/>
<path d="M475.6 268.1l-0.5 0.0" stroke="#555" stroke-width="0.5" stroke-opacity="0.23"/>
<path d="M420.9 367.7l-0.0 0.9" stroke="#555" stroke-width="0.5" stroke-opacity="0.25"/>
<path d="M520.2 257.6l-1.0 0.8" stroke="#555" stroke-width="0.5" stroke-opacity="0.26"/>
<path d="M442.5 290.1l0.1 0.8" stroke="#555" stroke-width="0.5" stroke-opacity="0.31"/>
<path d="M449.3 266.0l-0.7 0.6" stroke="#555" stroke-width="0.5" stroke-opacity="0.27"/>
<path d="M519.1 293.3l0.6 1.4" stroke="#555" stroke-width="0.5" stroke-opacity="0.39"/>
<path d="M505.1 283.7l-0.7 1.1" stroke="#555" stroke-width="0.5" stroke-opacity="0.22"/>
<path d="M495.9 382.9l-0.6 1.1" stroke="#555" stroke-width="0.5" stroke-opacity="0.26"/>
<path d="M485.4 251.9l-0.8 0.7" stroke="#555" stroke-width="0.5" stroke-opacity="0.39"/>
<path d="M438.9 339.8l0.9 0.0" stroke="#555" stroke-width="0.5" stroke-opacity="0.34"/>
<path d="M426.7 322.0l0.7 0.6" stroke="#555" stroke-width="0.5" stroke-opacity="0.40"/>
<path d="M417.3 376.2l1.1 0.2" stroke="#555" stroke-width="0.5" stroke-opacity="0.36"/>
<path d="M467.0 221.9C466.0 222.9 463.2 226.2 460.9 228.0C458.6 229.8 455.6 231.0 453.3 232.6C450.9 234.2 448.6 236.0 446.8 237.6C445.0 239.2 443.7 240.3 442.5 242.1C441.2 243.8 440.5 246.1 439.4 247.9C438.4 249.7 437.3 251.3 436.1 252.8C434.9 254.2 432.7 255.0 432.1 256.6C431.5 258.2 432.3 260.4 432.4 262.3C432.5 264.2 432.5 266.4 432.7 268.2C432.9 270.0 433.0 271.7 433.8 273.3C434.6 274.9 436.1 276.4 437.5 277.7C438.8 279.0 440.5 279.5 442.0 281.1C443.5 282.7 445.4 285.2 446.6 287.1C447.8 289.0 448.2 290.6 449.1 292.3C449.9 293.9 451.3 295.3 451.7 296.8C452.2 298.3 451.5 299.6 451.7 301.3C452.0 303.0 452.4 305.5 453.2 307.1C454.0 308.7 455.7 309.1 456.5 310.8C457.3 312.6 457.6 316.4 457.8 317.6" stroke="#1a1a1a" stroke-width="0.57" stroke-opacity="0.33"/>
<path d="M463.6 222.5C463.8 223.5 465.2 226.3 464.4 228.0C463.6 229.7 460.6 231.2 458.8 232.9C457.1 234.6 455.0 236.3 453.7 238.0C452.5 239.7 452.3 241.3 451.5 243.1C450.6 244.8 449.1 246.8 448.6 248.6C448.0 250.3 448.3 251.9 448.3 253.6C448.3 255.2 449.1 257.0 448.6 258.4C448.0 259.9 445.9 260.7 445.1 262.3C444.3 263.8 444.1 265.9 443.8 267.8C443.6 269.6 443.9 271.8 443.7 273.4C443.6 274.9 441.9 275.7 443.0 277.2C444.1 278.7 448.2 280.4 450.3 282.4C452.4 284.4 454.5 287.4 455.6 289.2C456.8 290.9 457.2 292.2 457.5 292.8" stroke="#1a1a1a" stroke-width="0.55" stroke-opacity="0.46"/>
<path d="M463.7 221.4C463.4 222.5 463.0 226.2 461.5 228.0C460.0 229.8 456.8 230.7 454.8 232.3C452.7 233.9 451.0 236.1 449.2 237.8C447.3 239.5 444.9 240.8 443.7 242.3C442.5 243.8 442.8 245.5 442.0 247.0C441.1 248.5 440.0 249.9 438.9 251.4C437.7 252.9 435.4 254.4 434.9 255.8C434.5 257.2 436.4 258.3 436.2 259.9C436.1 261.5 434.4 263.9 433.9 265.4C433.3 267.0 432.5 267.5 433.0 269.2C433.4 270.9 435.8 273.6 436.6 275.4C437.3 277.3 435.7 278.3 437.6 280.2C439.4 282.1 445.8 284.8 447.8 286.7C449.9 288.6 448.9 290.1 450.0 291.8C451.1 293.5 453.6 295.3 454.4 296.9C455.2 298.5 455.1 299.9 455.0 301.6C454.9 303.2 453.8 305.8 453.6 306.7" stroke="#1a1a1a" stroke-width="0.57" stroke-opacity="0.28"/>
<path d="M467.5 222.1C468.2 223.0 469.7 226.2 471.7 228.0C473.6 229.8 477.2 231.2 479.3 232.9C481.4 234.6 482.9 236.3 484.3 238.3C485.7 240.2 486.5 242.6 487.7 244.4C488.8 246.2 489.9 247.3 491.2 249.1C492.5 250.8 494.6 253.2 495.4 254.9C496.2 256.6 496.2 257.7 496.0 259.3C495.7 260.9 494.3 262.7 493.8 264.4C493.3 266.2 493.3 268.1 493.0 269.7C492.7 271.3 492.5 272.7 491.8 273.8C491.2 275.0 490.3 275.1 489.3 276.5C488.2 277.9 486.3 280.5 485.4 282.1C484.4 283.7 483.5 284.6 483.5 286.2C483.5 287.8 485.1 289.9 485.3 291.9C485.4 293.8 484.9 295.9 484.3 297.6C483.8 299.3 482.6 300.4 482.2 302.1C481.8 303.9 481.8 306.5 481.9 308.2C482.0 309.9 482.6 310.9 482.7 312.5C482.7 314.1 482.5 316.2 482.0 317.9C481.5 319.6 480.4 321.1 479.8 322.6C479.2 324.1 478.8 325.3 478.3 327.0C477.9 328.6 477.8 331.0 476.9 332.4C475.9 333.9 474.4 334.4 472.6 335.9C470.8 337.5 467.3 340.9 466.2 341.9" stroke="#1a1a1a" stroke-width="0.49" stroke-opacity="0.26"/>
<path d="M463.7 222.5C465.0 223.4 469.2 226.3 471.5 228.0C473.8 229.7 475.8 231.1 477.5 232.6C479.2 234.1 480.1 235.3 481.5 237.0C483.0 238.6 485.2 241.0 486.3 242.5C487.5 244.1 488.0 244.8 488.6 246.3C489.2 247.8 489.5 249.9 489.9 251.4C490.3 253.0 490.7 254.4 491.0 255.8C491.3 257.2 491.7 258.2 491.8 259.8C491.8 261.4 491.8 263.5 491.4 265.4C491.0 267.2 490.5 269.4 489.4 271.0C488.3 272.6 485.9 273.6 484.7 275.0C483.5 276.4 482.9 277.9 482.2 279.6C481.5 281.3 481.1 283.3 480.6 285.2C480.2 287.1 479.6 289.1 479.5 290.8C479.3 292.5 479.2 294.0 479.5 295.6C479.8 297.2 480.5 299.0 481.3 300.5C482.2 302.0 483.9 302.9 484.6 304.4C485.3 306.0 485.6 308.3 485.5 309.9C485.4 311.6 484.3 313.7 484.0 314.5" stroke="#1a1a1a" stroke-width="0.63" stroke-opacity="0.27"/>
<path d="M466.0 222.4C467.3 223.3 471.4 226.3 474.0 228.0C476.6 229.7 479.4 230.7 481.7 232.4C484.0 234.1 486.0 236.2 487.7 238.1C489.4 240.1 490.9 242.1 491.8 243.8C492.6 245.5 492.0 246.7 492.9 248.4C493.7 250.1 496.0 252.5 496.8 254.1C497.7 255.7 498.0 256.6 498.0 258.2C497.9 259.8 496.9 262.2 496.4 263.6C495.8 265.1 495.4 265.7 494.8 267.1C494.3 268.6 494.3 270.7 493.1 272.4C492.0 274.2 489.3 276.4 487.9 277.8C486.4 279.1 485.1 279.3 484.3 280.5C483.5 281.8 483.4 283.8 483.2 285.2C483.1 286.7 483.7 287.9 483.7 289.5C483.7 291.1 483.2 293.0 483.3 294.7C483.3 296.4 483.6 298.1 484.0 299.6C484.3 301.2 485.6 302.1 485.4 303.8C485.3 305.4 483.7 307.7 482.8 309.5C482.0 311.2 480.7 312.7 480.4 314.2C480.1 315.7 480.9 317.1 481.0 318.5C481.0 319.9 480.7 321.8 480.6 322.5" stroke="#1a1a1a" stroke-width="0.45" stroke-opacity="0.40"/>
<path d="M465.4 222.3C467.3 223.2 474.5 226.1 477.0 228.0C479.6 229.9 479.9 231.9 480.5 233.7C481.2 235.5 481.3 237.2 480.8 238.9C480.3 240.5 479.1 241.8 477.5 243.8C476.0 245.7 473.8 248.5 471.5 250.5C469.2 252.4 466.4 253.7 463.8 255.6C461.2 257.5 458.0 259.9 456.0 261.8C453.9 263.7 452.8 265.0 451.4 267.0C450.0 268.9 447.6 271.5 447.5 273.4C447.3 275.4 449.3 276.9 450.6 278.6C451.8 280.3 453.3 281.9 454.8 283.7C456.4 285.4 458.5 287.5 460.1 289.2C461.7 290.8 463.4 292.3 464.5 293.8C465.6 295.2 465.6 296.3 466.8 297.6C467.9 299.0 469.8 300.2 471.5 301.7C473.3 303.2 476.0 304.9 477.2 306.7C478.3 308.5 477.7 310.8 478.5 312.7C479.3 314.5 481.8 316.0 481.9 317.7C482.1 319.4 480.4 321.4 479.4 323.1C478.5 324.8 477.2 326.3 476.4 327.8C475.6 329.2 475.8 330.4 474.6 331.7C473.4 333.0 470.9 334.2 469.4 335.5C467.9 336.8 467.1 338.0 465.7 339.5C464.3 341.0 461.8 343.7 461.1 344.6" stroke="#1a1a1a" stroke-width="0.52" stroke-opacity="0.46"/>
<path d="M465.1 221.5C466.1 222.6 469.7 226.2 470.9 228.0C472.1 229.8 472.0 231.0 472.1 232.4C472.2 233.9 471.8 235.0 471.3 236.5C470.7 237.9 470.0 239.5 468.7 241.3C467.4 243.1 464.8 245.1 463.3 247.1C461.9 249.1 460.7 251.6 460.1 253.1C459.6 254.6 460.1 254.6 460.0 255.8C459.9 257.1 460.0 258.7 459.7 260.5C459.4 262.3 458.2 264.6 458.0 266.5C457.8 268.4 458.0 270.4 458.4 271.9C458.8 273.4 459.8 274.0 460.4 275.4C461.0 276.9 461.3 279.0 461.8 280.6C462.4 282.2 462.8 283.6 463.6 285.0C464.5 286.5 465.6 287.8 467.1 289.4C468.5 291.0 471.0 292.7 472.3 294.6C473.6 296.5 474.4 299.3 474.9 300.9C475.4 302.5 475.2 302.8 475.2 304.5C475.3 306.1 475.4 308.8 475.5 310.8C475.5 312.7 475.9 314.4 475.6 316.3C475.2 318.1 473.7 321.0 473.3 321.9" stroke="#1a1a1a" stroke-width="0.68" stroke-opacity="0.38"/>
<path d="M466.5 221.8C468.6 222.8 476.5 226.2 479.2 228.0C481.8 229.8 482.2 230.9 482.5 232.6C482.8 234.2 481.9 236.1 481.1 237.8C480.3 239.5 478.9 241.2 477.8 242.8C476.7 244.3 475.1 245.7 474.3 247.2C473.5 248.8 473.7 250.4 472.9 252.1C472.1 253.8 470.4 255.9 469.7 257.6C469.0 259.3 468.6 260.7 468.8 262.4C469.0 264.2 470.3 266.2 470.8 267.9C471.2 269.6 471.3 270.9 471.6 272.6C471.9 274.4 471.9 276.7 472.6 278.4C473.4 280.0 475.3 280.9 476.3 282.5C477.3 284.2 478.1 286.8 478.7 288.2C479.2 289.7 479.3 289.6 479.7 291.2C480.1 292.8 480.7 296.1 481.2 297.8C481.6 299.5 482.6 299.7 482.4 301.5C482.1 303.2 480.5 306.4 479.6 308.2C478.7 310.0 477.4 310.9 476.8 312.2C476.2 313.6 476.5 314.9 476.0 316.3C475.6 317.7 475.2 319.1 474.2 320.9C473.1 322.7 470.7 325.3 469.6 327.2C468.5 329.1 468.4 330.9 467.5 332.2C466.6 333.5 466.1 333.7 464.2 335.2C462.4 336.7 457.6 340.2 456.3 341.2" stroke="#1a1a1a" stroke-width="0.54" stroke-opacity="0.33"/>
<path d="M463.9 222.8C465.7 223.7 472.4 226.3 474.7 228.0C477.0 229.7 476.9 231.2 477.7 232.9C478.5 234.6 478.8 236.6 479.2 238.4C479.6 240.2 479.8 241.9 480.0 243.6C480.2 245.3 479.7 247.0 480.3 248.7C480.9 250.4 482.6 252.0 483.3 253.7C484.1 255.3 484.2 256.8 484.9 258.5C485.7 260.2 487.6 262.2 488.1 263.9C488.5 265.7 488.4 267.6 487.6 269.0C486.8 270.5 484.5 271.1 483.2 272.7C482.0 274.2 481.5 276.5 480.0 278.2C478.4 279.9 475.7 281.4 474.1 282.9C472.6 284.4 471.2 285.6 470.8 287.2C470.4 288.8 471.7 291.0 471.6 292.5C471.5 294.0 470.3 294.7 470.2 296.4C470.0 298.0 471.1 300.6 470.9 302.5C470.6 304.5 469.8 306.2 468.7 308.0C467.7 309.8 465.5 311.6 464.5 313.4C463.5 315.2 463.9 316.8 462.6 318.6C461.3 320.3 457.8 323.0 456.8 323.8" stroke="#1a1a1a" stroke-width="0.46" stroke-opacity="0.44"/>
<path d="M466.7 221.1C466.3 222.3 464.7 226.1 464.3 228.0C463.8 229.9 464.3 230.7 464.2 232.3C464.2 234.0 464.1 236.1 463.9 237.8C463.7 239.5 463.3 241.2 463.2 242.8C463.1 244.4 463.3 246.0 463.3 247.5C463.2 249.0 463.6 250.3 463.0 251.7C462.4 253.1 460.9 254.3 459.6 255.8C458.4 257.3 456.5 259.0 455.3 260.6C454.1 262.3 453.4 263.8 452.7 265.7C451.9 267.6 451.3 270.5 450.7 272.2C450.2 273.9 449.2 274.6 449.4 275.9C449.6 277.2 449.8 278.2 451.6 279.9C453.5 281.7 458.3 284.7 460.6 286.4C462.9 288.1 464.3 288.7 465.4 290.2C466.6 291.6 467.0 293.6 467.5 295.1C468.1 296.7 468.0 297.7 468.8 299.4C469.6 301.0 471.2 303.3 472.3 305.0C473.4 306.7 474.9 308.8 475.5 309.6" stroke="#1a1a1a" stroke-width="0.65" stroke-opacity="0.37"/>
<path d="M463.0 223.0C462.3 223.2 461.9 222.4 459.0 224.1C456.1 225.8 449.1 229.3 445.5 233.4C441.8 237.4 439.1 243.3 437.2 248.4C435.3 253.4 434.7 259.3 434.1 263.5C433.4 267.8 431.7 271.2 433.2 274.0C434.7 276.8 439.2 278.1 442.8 280.3C446.4 282.4 451.3 284.3 454.9 286.9C458.4 289.5 462.7 292.5 464.1 296.0C465.5 299.4 463.9 303.7 463.3 307.6C462.6 311.5 460.5 317.4 460.0 319.4" stroke="#1a1a1a" stroke-width="0.43" stroke-opacity="0.37"/>
<path d="M463.0 223.0C462.5 223.2 462.4 222.4 459.9 224.3C457.3 226.3 450.9 230.5 447.6 234.8C444.3 239.1 442.3 245.0 440.2 250.0C438.2 255.1 436.7 260.9 435.4 265.2C434.1 269.5 431.6 272.9 432.6 275.7C433.6 278.4 437.7 279.9 441.3 281.9C445.0 283.9 451.1 285.4 454.7 287.8C458.2 290.2 460.7 292.8 462.5 296.1C464.3 299.5 465.6 303.7 465.7 307.6C465.7 311.6 463.4 317.7 462.9 319.7" stroke="#1a1a1a" stroke-width="0.59" stroke-opacity="0.39"/>
<path d="M463.0 223.0C462.2 223.2 461.3 222.4 458.3 224.4C455.4 226.5 449.1 231.1 445.4 235.4C441.7 239.7 437.8 245.4 436.1 250.3C434.3 255.3 435.2 261.0 434.7 265.2C434.2 269.4 432.1 272.6 433.2 275.5C434.3 278.4 437.8 280.3 441.4 282.4C444.9 284.5 451.1 285.9 454.5 288.2C457.9 290.5 460.5 292.8 461.8 296.1C463.1 299.3 462.3 303.5 462.2 307.5C462.1 311.4 461.4 317.6 461.2 319.7" stroke="#1a1a1a" stroke-width="0.61" stroke-opacity="0.46"/>
<path d="M469.0 223.0C469.4 223.0 469.1 222.4 471.6 222.8C474.0 223.2 480.3 223.2 483.7 225.1C487.1 227.1 489.9 231.1 491.8 234.4C493.7 237.7 495.5 241.0 495.2 245.2C494.8 249.5 492.5 255.4 489.8 259.9C487.2 264.3 481.9 268.2 479.4 272.0C477.0 275.8 474.6 278.6 475.3 282.6C476.0 286.5 482.3 291.2 483.7 295.6C485.1 300.1 484.6 304.6 483.5 309.1C482.4 313.6 479.6 319.0 477.2 322.8C474.7 326.5 470.2 330.1 468.8 331.6" stroke="#1a1a1a" stroke-width="0.45" stroke-opacity="0.54"/>
<path d="M469.0 223.0C469.4 223.1 469.1 223.2 471.6 223.9C474.1 224.6 480.3 225.2 483.8 227.1C487.3 229.1 490.7 232.6 492.6 235.8C494.5 239.0 495.6 242.2 495.2 246.5C494.7 250.7 492.1 256.8 489.8 261.5C487.5 266.1 483.7 270.2 481.3 274.1C478.9 278.0 475.1 280.9 475.3 284.8C475.5 288.7 481.5 293.3 482.6 297.6C483.8 302.0 483.1 306.6 482.2 311.1C481.4 315.7 479.6 321.2 477.7 325.0C475.8 328.8 472.0 332.2 470.9 333.6" stroke="#1a1a1a" stroke-width="0.50" stroke-opacity="0.50"/>
<path d="M469.0 223.0C469.5 223.1 469.6 223.1 472.2 223.5C474.8 224.0 481.2 224.0 484.7 225.7C488.1 227.3 490.8 230.6 492.9 233.7C495.0 236.8 497.4 240.0 497.3 244.3C497.1 248.6 494.5 254.7 491.9 259.5C489.4 264.2 484.3 268.7 482.0 272.8C479.6 276.9 477.4 279.9 477.9 283.8C478.3 287.7 483.4 291.8 484.7 296.2C486.0 300.5 486.7 305.1 485.8 309.7C484.9 314.4 482.1 320.1 479.5 324.0C476.9 327.9 471.8 331.6 470.3 333.1" stroke="#1a1a1a" stroke-width="0.48" stroke-opacity="0.48"/>
<path d="M467.0 223.0C467.0 223.4 467.2 223.1 467.1 225.6C467.0 228.1 467.4 233.6 466.4 238.2C465.5 242.9 462.4 248.1 461.4 253.4C460.4 258.8 459.4 265.4 460.4 270.4C461.4 275.3 465.3 278.8 467.5 283.0C469.8 287.2 472.0 291.7 473.9 295.8C475.7 299.8 478.5 303.5 478.5 307.4C478.5 311.3 476.0 315.6 473.9 319.2C471.8 322.9 468.8 325.8 465.8 329.2C462.8 332.6 457.5 337.9 455.8 339.6" stroke="#1a1a1a" stroke-width="0.48" stroke-opacity="0.45"/>
<path d="M467.0 223.0C467.3 223.4 469.0 222.9 468.9 225.3C468.9 227.7 467.7 233.1 466.6 237.7C465.6 242.2 463.6 247.4 462.7 252.8C461.9 258.1 460.6 264.8 461.6 269.7C462.6 274.7 466.4 278.2 468.5 282.4C470.6 286.6 472.5 291.0 474.2 295.0C475.8 299.0 478.5 302.6 478.5 306.5C478.5 310.4 475.9 314.8 474.1 318.5C472.3 322.2 470.1 325.2 467.6 328.6C465.2 332.0 460.8 337.2 459.5 338.9" stroke="#1a1a1a" stroke-width="0.70" stroke-opacity="0.50"/>
<path d="M467.0 223.0C467.1 223.6 467.7 223.6 467.4 226.4C467.1 229.2 465.9 235.1 464.9 239.8C463.9 244.5 461.8 249.2 461.2 254.5C460.6 259.9 460.3 266.6 461.3 271.6C462.3 276.6 465.2 280.4 467.3 284.7C469.4 289.0 472.4 293.5 473.8 297.6C475.3 301.7 476.1 305.2 476.0 309.1C475.9 313.0 474.8 317.5 473.2 321.1C471.6 324.7 469.2 327.6 466.6 330.8C464.0 334.0 459.1 338.8 457.6 340.3" stroke="#1a1a1a" stroke-width="0.65" stroke-opacity="0.53"/>
<path d="M464.0 223.0C463.9 223.6 464.7 224.1 463.2 226.6C461.7 229.0 457.5 233.0 454.8 237.7C452.2 242.3 448.6 248.9 447.2 254.5C445.9 260.1 445.8 266.8 446.7 271.4C447.7 276.0 449.8 279.0 452.8 282.3C455.7 285.6 461.3 288.6 464.4 291.2C467.6 293.7 470.6 295.1 471.8 297.8C473.1 300.5 472.1 305.7 472.1 307.3" stroke="#1a1a1a" stroke-width="0.54" stroke-opacity="0.29"/>
<path d="M464.0 223.0C463.8 223.5 464.0 223.7 462.6 225.9C461.2 228.1 457.8 231.8 455.7 236.3C453.6 240.9 451.4 247.6 449.9 253.2C448.4 258.9 446.1 265.6 446.5 270.2C446.9 274.8 449.6 277.7 452.2 280.9C454.8 284.2 459.2 287.2 462.1 289.9C464.9 292.5 468.0 294.0 469.2 296.7C470.4 299.4 469.4 304.7 469.4 306.3" stroke="#1a1a1a" stroke-width="0.54" stroke-opacity="0.39"/>
<path d="M464.0 223.0C463.8 223.6 464.2 224.0 462.6 226.4C461.1 228.9 457.4 233.0 454.9 237.7C452.3 242.4 449.2 249.0 447.5 254.6C445.8 260.2 444.1 266.9 444.5 271.5C444.9 276.1 447.0 279.1 450.0 282.3C453.0 285.6 459.3 288.4 462.4 290.8C465.4 293.3 466.9 294.5 468.4 297.1C469.8 299.8 470.5 305.0 470.9 306.6" stroke="#1a1a1a" stroke-width="0.44" stroke-opacity="0.26"/>
<path d="M469.0 223.0C469.4 223.6 470.0 224.1 471.5 226.6C473.0 229.0 476.3 233.8 478.1 237.7C480.0 241.6 482.7 245.6 482.7 250.2C482.7 254.8 479.9 261.0 478.1 265.3C476.4 269.6 474.5 272.7 472.3 276.0C470.1 279.3 467.0 281.5 464.9 285.1C462.8 288.8 460.7 293.9 459.7 297.9C458.8 302.0 458.7 305.8 459.3 309.4C459.8 313.0 462.3 317.7 462.9 319.4" stroke="#1a1a1a" stroke-width="0.65" stroke-opacity="0.26"/>
<path d="M469.0 223.0C469.3 223.6 469.5 223.8 471.1 226.3C472.7 228.8 476.6 233.8 478.6 237.9C480.6 241.9 482.6 246.1 483.1 250.7C483.5 255.4 482.9 261.5 481.2 265.7C479.5 269.8 475.6 272.7 473.0 275.8C470.3 278.8 467.4 280.7 465.1 284.2C462.9 287.6 460.8 292.6 459.5 296.6C458.3 300.6 457.0 304.4 457.6 308.0C458.1 311.6 461.9 316.5 462.8 318.2" stroke="#1a1a1a" stroke-width="0.51" stroke-opacity="0.30"/>
<path d="M469.0 223.0C469.4 223.5 470.0 223.8 471.7 226.1C473.4 228.4 477.1 232.9 479.2 236.8C481.3 240.7 483.9 244.8 484.2 249.4C484.6 254.0 483.1 260.2 481.2 264.4C479.4 268.7 475.7 271.8 473.2 275.0C470.7 278.3 468.5 280.5 466.3 284.2C464.0 287.8 461.1 293.0 459.6 297.1C458.1 301.2 457.0 305.1 457.5 308.7C457.9 312.3 461.6 316.9 462.4 318.5" stroke="#1a1a1a" stroke-width="0.43" stroke-opacity="0.31"/>
<path d="M468.0 223.0C468.4 223.7 469.3 224.4 470.1 227.1C471.0 229.8 472.8 234.5 473.0 239.0C473.2 243.5 472.5 249.4 471.5 254.1C470.5 258.7 467.4 262.7 467.0 267.0C466.6 271.2 466.8 275.9 469.1 279.7C471.4 283.5 478.2 287.0 480.7 289.7C483.3 292.4 483.7 294.9 484.3 296.0" stroke="#1a1a1a" stroke-width="0.54" stroke-opacity="0.49"/>
<path d="M468.0 223.0C468.6 223.8 470.0 224.8 471.3 227.7C472.6 230.6 475.5 235.8 475.9 240.4C476.3 245.0 474.8 250.8 473.5 255.4C472.1 260.0 468.5 263.7 467.9 268.0C467.3 272.2 467.6 276.9 469.9 280.8C472.1 284.7 478.8 288.6 481.3 291.4C483.9 294.2 484.4 296.8 485.0 297.8" stroke="#1a1a1a" stroke-width="0.45" stroke-opacity="0.55"/>
<path d="M468.0 223.0C468.4 223.7 469.5 224.3 470.5 226.9C471.5 229.6 473.3 234.5 473.8 239.0C474.3 243.5 474.3 249.4 473.2 254.0C472.1 258.5 467.7 262.3 467.1 266.5C466.5 270.8 467.6 275.4 469.4 279.4C471.2 283.3 475.7 287.3 477.8 290.2C480.0 293.2 481.6 295.8 482.4 296.9" stroke="#1a1a1a" stroke-width="0.60" stroke-opacity="0.31"/>
<path d="M463.0 223.0C462.4 223.3 461.7 223.1 459.6 225.1C457.5 227.1 453.3 231.0 450.4 235.1C447.4 239.2 444.2 244.6 441.8 249.5C439.4 254.3 436.6 259.6 436.0 264.2C435.3 268.8 436.2 273.4 438.0 277.1C439.7 280.8 443.4 283.6 446.5 286.2C449.6 288.8 454.3 290.4 456.7 292.7C459.1 295.0 460.0 299.0 460.7 300.2" stroke="#1a1a1a" stroke-width="0.53" stroke-opacity="0.53"/>
<path d="M463.0 223.0C462.7 223.3 462.8 222.7 461.1 224.5C459.3 226.3 455.6 229.8 452.4 233.9C449.2 238.0 444.1 244.2 441.7 249.3C439.3 254.4 438.8 259.9 438.2 264.6C437.7 269.2 436.7 273.8 438.4 277.3C440.1 280.7 445.0 282.9 448.3 285.2C451.6 287.6 455.8 289.0 458.1 291.3C460.3 293.6 461.3 297.7 461.9 299.0" stroke="#1a1a1a" stroke-width="0.47" stroke-opacity="0.27"/>
<path d="M463.0 223.0C462.7 223.3 463.2 222.7 461.2 224.6C459.1 226.5 454.0 230.2 450.5 234.4C447.1 238.6 442.8 244.6 440.6 249.6C438.5 254.7 437.8 260.1 437.4 264.7C437.1 269.4 436.8 274.0 438.4 277.5C440.0 281.0 444.2 283.3 447.0 285.7C449.8 288.1 452.9 289.5 455.1 291.8C457.4 294.0 459.6 298.1 460.5 299.3" stroke="#1a1a1a" stroke-width="0.41" stroke-opacity="0.45"/>
<path d="M470.0 223.0C470.5 223.4 470.9 223.9 473.3 225.2C475.6 226.5 481.6 228.0 484.2 230.6C486.7 233.2 487.6 237.0 488.6 240.9C489.5 244.7 490.5 249.5 489.7 253.8C488.9 258.1 485.8 262.7 483.8 266.7C481.7 270.7 479.0 274.1 477.4 277.7C475.8 281.3 473.6 285.0 473.9 288.4C474.1 291.8 478.0 295.3 479.0 298.3C479.9 301.3 479.5 304.9 479.6 306.2" stroke="#1a1a1a" stroke-width="0.49" stroke-opacity="0.28"/>
<path d="M470.0 223.0C470.6 223.3 471.4 223.5 473.9 224.7C476.3 225.8 482.4 227.1 484.8 229.7C487.2 232.3 487.6 236.3 488.5 240.2C489.3 244.1 490.5 248.9 489.8 253.2C489.1 257.5 486.4 262.0 484.3 265.9C482.3 269.8 479.1 273.0 477.7 276.6C476.3 280.2 475.6 283.8 475.8 287.2C476.0 290.7 478.3 294.2 479.0 297.2C479.8 300.2 480.0 303.9 480.1 305.2" stroke="#1a1a1a" stroke-width="0.56" stroke-opacity="0.26"/>
<path d="M470.0 223.0C470.4 223.4 470.2 224.1 472.3 225.5C474.4 226.9 479.6 228.5 482.4 231.2C485.2 233.8 487.5 237.6 488.9 241.5C490.3 245.3 491.3 250.1 490.9 254.4C490.4 258.7 487.8 263.3 486.1 267.3C484.5 271.3 482.6 274.6 481.0 278.2C479.3 281.8 476.3 285.5 476.1 288.9C476.0 292.4 479.6 295.9 480.2 298.8C480.8 301.8 479.7 305.5 479.6 306.8" stroke="#1a1a1a" stroke-width="0.55" stroke-opacity="0.49"/>
<path d="M470.0 297.0C469.8 299.3 468.0 306.2 468.5 310.6C469.0 314.9 472.8 319.2 472.8 323.1C472.8 327.1 470.7 331.3 468.3 334.2C466.0 337.1 461.9 338.8 458.6 340.6C455.2 342.5 450.2 343.4 448.0 345.5C445.8 347.6 445.8 351.8 445.3 353.1" stroke="#1a1a1a" stroke-width="0.57" stroke-opacity="0.41"/>
<path d="M470.0 297.0C469.9 299.2 468.6 306.1 469.2 310.4C469.8 314.8 473.7 319.2 473.7 323.2C473.8 327.1 472.0 331.3 469.7 334.1C467.3 336.9 462.8 338.1 459.4 340.0C456.0 341.8 451.8 343.0 449.3 345.2C446.7 347.4 445.0 351.8 444.2 353.2" stroke="#1a1a1a" stroke-width="0.67" stroke-opacity="0.26"/>
<path d="M468.7 221.0C468.3 222.0 466.5 225.0 466.2 227.0C466.0 229.0 467.1 232.0 467.2 233.0" stroke="url(#fd)" stroke-width="0.67"/>
<path d="M467.4 221.0C468.1 222.0 470.1 225.0 471.5 227.0C472.9 229.0 475.2 230.7 475.9 233.0C476.6 235.3 475.8 239.7 475.8 241.0" stroke="url(#fd)" stroke-width="0.71"/>
<path d="M467.7 221.0C468.2 222.0 470.0 225.0 471.1 227.0C472.1 229.0 473.2 230.7 474.0 233.0C474.9 235.3 475.8 239.7 476.2 241.0" stroke="url(#fd)" stroke-width="0.97"/>
<path d="M466.2 221.0C464.9 222.0 460.5 225.0 458.6 227.0C456.7 229.0 456.1 230.7 455.0 233.0C453.8 235.3 452.7 238.3 451.7 241.0C450.7 243.7 449.2 247.7 448.7 249.0" stroke="url(#fd)" stroke-width="1.04"/>
<path d="M465.7 221.0C467.2 222.0 472.1 225.0 474.7 227.0C477.2 229.0 479.9 232.0 480.9 233.0" stroke="url(#fd)" stroke-width="0.65"/>
<path d="M465.8 221.0C465.6 222.0 464.6 225.0 464.1 227.0C463.7 229.0 463.3 232.0 463.1 233.0" stroke="url(#fd)" stroke-width="1.07"/>
<path d="M468.0 221.0C469.1 222.0 472.5 225.0 474.6 227.0C476.6 229.0 478.7 230.7 480.1 233.0C481.5 235.3 482.2 238.3 482.8 241.0C483.5 243.7 483.6 247.7 483.8 249.0" stroke="url(#fd)" stroke-width="0.90"/>
<path d="M464.9 221.0C464.7 222.0 464.1 225.0 463.8 227.0C463.4 229.0 463.1 230.7 462.8 233.0C462.5 235.3 462.1 238.3 461.8 241.0C461.5 243.7 461.2 247.7 461.1 249.0" stroke="url(#fd)" stroke-width="1.02"/>
<path d="M464.5 221.0C463.6 222.0 461.0 225.0 459.4 227.0C457.9 229.0 455.8 232.0 455.1 233.0" stroke="url(#fd)" stroke-width="0.73"/>
<path d="M468.8 221.0C467.4 222.0 462.5 225.0 460.4 227.0C458.3 229.0 457.3 230.7 456.2 233.0C455.1 235.3 454.6 238.3 453.8 241.0C453.0 243.7 451.8 247.7 451.4 249.0" stroke="url(#fd)" stroke-width="0.85"/>
<path d="M467.0 221.0C466.3 222.0 463.8 225.0 462.8 227.0C461.9 229.0 462.0 230.7 461.4 233.0C460.7 235.3 459.3 239.7 458.9 241.0" stroke="url(#fd)" stroke-width="1.09"/>
<path d="M468.8 221.0C467.8 222.0 464.2 225.0 462.8 227.0C461.3 229.0 460.5 232.0 460.1 233.0" stroke="url(#fd)" stroke-width="1.02"/>
<path d="M466.4 221.0C467.5 222.0 470.8 225.0 472.8 227.0C474.8 229.0 477.2 230.7 478.5 233.0C479.7 235.3 480.2 239.7 480.5 241.0" stroke="url(#fd)" stroke-width="1.02"/>
<path d="M467.4 221.0C466.0 222.0 461.0 225.0 459.0 227.0C457.0 229.0 455.8 232.0 455.1 233.0" stroke="url(#fd)" stroke-width="1.10"/>
<path d="M467.0 221.0C466.9 222.0 466.7 225.0 466.6 227.0C466.4 229.0 466.2 230.7 466.1 233.0C466.0 235.3 465.9 239.7 465.9 241.0" stroke="url(#fd)" stroke-width="0.63"/>
<path d="M467.8 221.0C468.9 222.0 472.5 225.0 474.4 227.0C476.3 229.0 477.9 230.7 479.1 233.0C480.4 235.3 481.3 239.7 481.7 241.0" stroke="url(#fd)" stroke-width="0.94"/>
<path d="M462.0 305.0C461.6 307.1 458.9 313.7 459.7 317.4C460.5 321.1 464.1 325.6 467.0 327.3C469.9 329.0 474.5 329.0 477.0 327.3C479.5 325.6 481.6 320.7 482.0 317.4C482.4 314.1 481.7 309.9 479.6 307.4C477.6 304.9 472.6 303.6 469.7 302.4C466.8 301.2 463.3 300.4 462.0 300.0" stroke="#1a1a1a" stroke-width="0.70" stroke-opacity="0.62"/>
<path d="M466.0 300.0C465.5 302.0 462.7 308.0 463.0 312.0C463.3 316.0 465.8 321.2 468.0 324.0C470.2 326.8 474.9 327.6 476.0 329.0C477.1 330.4 476.5 330.5 474.6 332.3C472.7 334.1 468.0 337.9 464.7 339.8C461.4 341.7 457.6 341.9 454.7 343.5C451.8 345.1 449.2 347.4 447.3 349.7C445.4 352.0 443.5 354.7 443.5 357.2C443.5 359.7 445.6 362.5 447.3 364.6C449.0 366.7 451.6 367.5 453.5 369.6C455.4 371.7 457.7 375.8 458.5 377.0" stroke="#1a1a1a" stroke-width="0.70" stroke-opacity="0.62"/>
<path d="M480.0 300.0C480.5 302.0 483.3 307.7 483.0 312.0C482.7 316.3 480.2 322.3 478.0 326.0C475.8 329.7 473.1 332.5 470.0 334.0C466.9 335.5 461.9 333.5 459.7 334.8C457.5 336.1 458.6 340.3 457.0 342.0C455.4 343.7 452.8 343.3 450.0 345.0C447.2 346.7 442.1 349.5 440.0 352.0C437.9 354.5 437.8 358.7 437.3 360.0" stroke="#1a1a1a" stroke-width="0.60" stroke-opacity="0.57"/>
<path d="M440.0 340.0C441.2 340.6 444.5 343.5 447.3 343.5C450.1 343.5 454.6 341.4 457.0 340.0C459.4 338.6 460.2 336.0 462.0 334.8C463.8 333.6 467.0 333.3 468.0 333.0" stroke="#1a1a1a" stroke-width="0.60" stroke-opacity="0.52"/>
<path d="M472.0 334.0C471.0 335.5 468.3 340.3 466.0 343.0C463.7 345.7 460.3 347.5 458.0 350.0C455.7 352.5 452.5 355.3 452.0 358.0C451.5 360.7 454.5 364.7 455.0 366.0" stroke="#1a1a1a" stroke-width="0.60" stroke-opacity="0.52"/>
<path d="M411.0 362.0C412.1 361.0 414.7 356.4 417.4 356.0C420.1 355.6 424.1 358.7 427.4 359.7C430.7 360.7 434.6 361.8 437.3 362.0C440.0 362.2 442.5 361.2 443.5 361.0" stroke="#1a1a1a" stroke-width="0.60" stroke-opacity="0.52"/>
<path d="M418.7 385.8C418.9 384.3 418.6 379.3 420.0 377.0C421.4 374.7 425.3 372.4 427.4 372.0C429.4 371.6 431.5 372.5 432.3 374.6C433.1 376.7 432.3 382.9 432.3 384.5" stroke="#1a1a1a" stroke-width="0.60" stroke-opacity="0.52"/>
<path d="M432.0 372.0C433.7 371.8 439.0 370.8 442.0 371.0C445.0 371.2 448.1 371.8 450.0 373.0C451.9 374.2 452.3 376.7 453.5 378.0C454.7 379.3 456.4 380.5 457.0 381.0" stroke="#1a1a1a" stroke-width="0.60" stroke-opacity="0.52"/>
<path d="M430.0 336.0C431.0 336.7 434.2 338.3 436.0 340.0C437.8 341.7 439.5 344.0 441.0 346.0C442.5 348.0 444.3 351.0 445.0 352.0" stroke="#1a1a1a" stroke-width="0.50" stroke-opacity="0.47"/>
<path d="M460.3 223.5L460.9 214Q463 211.4 466.5 211.7Q470.9 212 471.4 215L471.6 224L468.3 224L467.6 221.5L465.8 221.3L464.8 223.8Z" fill="#111" stroke="none"/>
<ellipse cx="466" cy="224.5" rx="6.5" ry="2.5" fill="#222" fill-opacity="0.45" stroke="none"/>
</g>
<defs><linearGradient id="fo" x1="0" y1="0" x2="0" y2="1"><stop offset="0" stop-color="#f5f5f5" stop-opacity="0"/><stop offset="1" stop-color="#f5f5f5" stop-opacity="0.45"/></linearGradient></defs>
<rect x="386" y="115" width="152.6" height="84.5" fill="url(#fo)"/>
<rect x="386" y="275" width="152.6" height="119" fill="url(#fo)"/>
<text x="393.6" y="43.3" font-size="11.8" fill="#f00">E+</text>
<text x="398" y="225.7" font-size="11.8" fill="#f00">E−</text>
<rect x="44.0" y="22.8" width="150.5" height="371.5" fill="#fff" stroke="#8e8e8e" stroke-width="1.2"/>
<line x1="44.0" y1="146.5" x2="194.5" y2="146.5" stroke="#8e8e8e" stroke-width="1.2"/>
<rect x="233.5" y="22.8" width="150.0" height="371.5" fill="#fff" stroke="#8e8e8e" stroke-width="1.2"/>
<line x1="233.5" y1="146.5" x2="383.5" y2="146.5" stroke="#8e8e8e" stroke-width="1.2"/>
<line x1="44.0" y1="270.6" x2="194.5" y2="270.6" stroke="#777" stroke-width="1.3"/>
<line x1="233.5" y1="270.4" x2="383.5" y2="270.4" stroke="#333" stroke-width="1.3"/>
<line x1="44.0" y1="23" x2="46.4" y2="23" stroke="#8e8e8e" stroke-width="1"/>
<text x="41.3" y="26.5" font-size="10.3" text-anchor="end" fill="#000">40</text>
<line x1="44.0" y1="49" x2="46.4" y2="49" stroke="#8e8e8e" stroke-width="1"/>
<text x="41.3" y="52.5" font-size="10.3" text-anchor="end" fill="#000">36</text>
<line x1="44.0" y1="75" x2="46.4" y2="75" stroke="#8e8e8e" stroke-width="1"/>
<text x="41.3" y="78.5" font-size="10.3" text-anchor="end" fill="#000">32</text>
<line x1="44.0" y1="101" x2="46.4" y2="101" stroke="#8e8e8e" stroke-width="1"/>
<text x="41.3" y="104.5" font-size="10.3" text-anchor="end" fill="#000">28</text>
<line x1="44.0" y1="127" x2="46.4" y2="127" stroke="#8e8e8e" stroke-width="1"/>
<text x="41.3" y="130.5" font-size="10.3" text-anchor="end" fill="#000">24</text>
<line x1="44.0" y1="154.3" x2="46.4" y2="154.3" stroke="#8e8e8e" stroke-width="1"/>
<text x="41.3" y="157.8" font-size="10.3" text-anchor="end" fill="#000">16</text>
<line x1="44.0" y1="185.1" x2="46.4" y2="185.1" stroke="#8e8e8e" stroke-width="1"/>
<text x="41.3" y="188.6" font-size="10.3" text-anchor="end" fill="#000">12</text>
<line x1="44.0" y1="215.9" x2="46.4" y2="215.9" stroke="#8e8e8e" stroke-width="1"/>
<text x="41.3" y="219.4" font-size="10.3" text-anchor="end" fill="#000">8</text>
<line x1="44.0" y1="246.7" x2="46.4" y2="246.7" stroke="#8e8e8e" stroke-width="1"/>
<text x="41.3" y="250.2" font-size="10.3" text-anchor="end" fill="#000">4</text>
<line x1="44.0" y1="281.9" x2="46.4" y2="281.9" stroke="#8e8e8e" stroke-width="1"/>
<text x="41.3" y="285.4" font-size="10.3" text-anchor="end" fill="#000">14</text>
<line x1="44.0" y1="304.3" x2="46.4" y2="304.3" stroke="#8e8e8e" stroke-width="1"/>
<text x="41.3" y="307.8" font-size="10.3" text-anchor="end" fill="#000">12</text>
<line x1="44.0" y1="326.7" x2="46.4" y2="326.7" stroke="#8e8e8e" stroke-width="1"/>
<text x="41.3" y="330.2" font-size="10.3" text-anchor="end" fill="#000">10</text>
<line x1="44.0" y1="349.1" x2="46.4" y2="349.1" stroke="#8e8e8e" stroke-width="1"/>
<text x="41.3" y="352.6" font-size="10.3" text-anchor="end" fill="#000">8</text>
<line x1="44.0" y1="371.6" x2="46.4" y2="371.6" stroke="#8e8e8e" stroke-width="1"/>
<text x="41.3" y="375.1" font-size="10.3" text-anchor="end" fill="#000">6</text>
<line x1="44.0" y1="394" x2="46.4" y2="394" stroke="#8e8e8e" stroke-width="1"/>
<text x="41.3" y="397.5" font-size="10.3" text-anchor="end" fill="#000">4</text>
<line x1="233.5" y1="33" x2="235.9" y2="33" stroke="#8e8e8e" stroke-width="1"/>
<text x="230" y="36.5" font-size="10.3" text-anchor="end" fill="#000">7000</text>
<line x1="233.5" y1="53.7" x2="235.9" y2="53.7" stroke="#8e8e8e" stroke-width="1"/>
<text x="230" y="57.2" font-size="10.3" text-anchor="end" fill="#000">6000</text>
<line x1="233.5" y1="74.4" x2="235.9" y2="74.4" stroke="#8e8e8e" stroke-width="1"/>
<text x="230" y="77.9" font-size="10.3" text-anchor="end" fill="#000">5000</text>
<line x1="233.5" y1="95.1" x2="235.9" y2="95.1" stroke="#8e8e8e" stroke-width="1"/>
<text x="230" y="98.6" font-size="10.3" text-anchor="end" fill="#000">4000</text>
<line x1="233.5" y1="115.7" x2="235.9" y2="115.7" stroke="#8e8e8e" stroke-width="1"/>
<text x="230" y="119.2" font-size="10.3" text-anchor="end" fill="#000">3000</text>
<line x1="233.5" y1="136.4" x2="235.9" y2="136.4" stroke="#8e8e8e" stroke-width="1"/>
<text x="230" y="139.9" font-size="10.3" text-anchor="end" fill="#000">2000</text>
<line x1="233.5" y1="158.6" x2="235.9" y2="158.6" stroke="#8e8e8e" stroke-width="1"/>
<text x="230" y="162.1" font-size="10.3" text-anchor="end" fill="#000">0.28</text>
<line x1="233.5" y1="183.4" x2="235.9" y2="183.4" stroke="#8e8e8e" stroke-width="1"/>
<text x="230" y="186.9" font-size="10.3" text-anchor="end" fill="#000">0.26</text>
<line x1="233.5" y1="208.2" x2="235.9" y2="208.2" stroke="#8e8e8e" stroke-width="1"/>
<text x="230" y="211.7" font-size="10.3" text-anchor="end" fill="#000">0.24</text>
<line x1="233.5" y1="233" x2="235.9" y2="233" stroke="#8e8e8e" stroke-width="1"/>
<text x="230" y="236.5" font-size="10.3" text-anchor="end" fill="#000">0.22</text>
<line x1="233.5" y1="257.8" x2="235.9" y2="257.8" stroke="#8e8e8e" stroke-width="1"/>
<text x="230" y="261.3" font-size="10.3" text-anchor="end" fill="#000">0.20</text>
<line x1="233.5" y1="270.5" x2="235.9" y2="270.5" stroke="#8e8e8e" stroke-width="1"/>
<text x="230" y="274.0" font-size="10.3" text-anchor="end" fill="#000">4.0</text>
<line x1="233.5" y1="287.5" x2="235.9" y2="287.5" stroke="#8e8e8e" stroke-width="1"/>
<text x="230" y="291.0" font-size="10.3" text-anchor="end" fill="#000">3.9</text>
<line x1="233.5" y1="305.3" x2="235.9" y2="305.3" stroke="#8e8e8e" stroke-width="1"/>
<text x="230" y="308.8" font-size="10.3" text-anchor="end" fill="#000">3.8</text>
<line x1="233.5" y1="323.2" x2="235.9" y2="323.2" stroke="#8e8e8e" stroke-width="1"/>
<text x="230" y="326.7" font-size="10.3" text-anchor="end" fill="#000">3.7</text>
<line x1="233.5" y1="341" x2="235.9" y2="341" stroke="#8e8e8e" stroke-width="1"/>
<text x="230" y="344.5" font-size="10.3" text-anchor="end" fill="#000">3.6</text>
<line x1="233.5" y1="358.9" x2="235.9" y2="358.9" stroke="#8e8e8e" stroke-width="1"/>
<text x="230" y="362.4" font-size="10.3" text-anchor="end" fill="#000">3.5</text>
<line x1="233.5" y1="376.7" x2="235.9" y2="376.7" stroke="#8e8e8e" stroke-width="1"/>
<text x="230" y="380.2" font-size="10.3" text-anchor="end" fill="#000">3.4</text>
<line x1="233.5" y1="394.5" x2="235.9" y2="394.5" stroke="#8e8e8e" stroke-width="1"/>
<text x="230" y="398.0" font-size="10.3" text-anchor="end" fill="#000">3.3</text>
<line x1="81.6" y1="394.3" x2="81.6" y2="392.1" stroke="#8e8e8e" stroke-width="1"/>
<line x1="156.8" y1="394.3" x2="156.8" y2="392.1" stroke="#8e8e8e" stroke-width="1"/>
<line x1="270.5" y1="394.3" x2="270.5" y2="392.1" stroke="#8e8e8e" stroke-width="1"/>
<line x1="345.5" y1="394.3" x2="345.5" y2="392.1" stroke="#8e8e8e" stroke-width="1"/>
<text x="82" y="407.6" font-size="10" text-anchor="middle" fill="#000">E+</text>
<text x="156" y="407.6" font-size="10" text-anchor="middle" fill="#000">E−</text>
<text x="270.5" y="407.6" font-size="10" text-anchor="middle" fill="#000">E+</text>
<text x="345" y="407.6" font-size="10" text-anchor="middle" fill="#000">E−</text>
<text x="47.5" y="32.8" font-size="14" text-anchor="start" fill="#000">a</text>
<text x="49" y="159.2" font-size="14" text-anchor="start" fill="#000">b</text>
<text x="48.8" y="278.5" font-size="14" text-anchor="start" fill="#000">c</text>
<text x="236.4" y="36.2" font-size="14" text-anchor="start" fill="#000">d</text>
<text x="236.2" y="156.6" font-size="14" text-anchor="start" fill="#000">e</text>
<text x="237.7" y="283.1" font-size="14" text-anchor="start" fill="#000">f</text>
<text x="24.5" y="71.5" font-size="10.5" text-anchor="middle" fill="#000" transform="rotate(-90 24.5 71.5)">Plant height (cm)</text>
<text x="25" y="205" font-size="10.8" text-anchor="middle" fill="#000" transform="rotate(-90 25 205)">Tillers</text>
<text x="24.5" y="326" font-size="11.1" text-anchor="middle" fill="#000" transform="rotate(-90 24.5 326)">Shoot dry weight (g)</text>
<text x="206.8" y="85.5" font-size="10.5" text-anchor="middle" fill="#000" transform="rotate(-90 206.8 85.5)">Root fork numbers</text>
<text x="207.6" y="213" font-size="10.7" text-anchor="middle" fill="#000" transform="rotate(-90 207.6 213)">Root average diameter (mm)</text>
<text x="207.5" y="336.3" font-size="10.5" text-anchor="middle" fill="#000" transform="rotate(-90 207.5 336.3)">Root dry weight (g)</text>
<path d="M81.6 129.2V41H156.9V50.8" fill="none" stroke="#8a8a8a" stroke-width="1.25"/>
<text x="120.4" y="38.400000000000006" font-size="13" text-anchor="middle" fill="#000">*</text>
<line x1="81.6" y1="129.2" x2="81.6" y2="130.4" stroke="#747474" stroke-width="1.05"/>
<line x1="69.8" y1="129.2" x2="93.39999999999999" y2="129.2" stroke="#b5b5b5" stroke-width="1.05"/>
<line x1="81.6" y1="134.1" x2="81.6" y2="134.6" stroke="#747474" stroke-width="1.05"/>
<line x1="69.8" y1="134.6" x2="93.39999999999999" y2="134.6" stroke="#b5b5b5" stroke-width="1.05"/>
<rect x="57.7" y="130.4" width="48.10" height="3.70" fill="#ff8206" stroke="#9a5510" stroke-width="0.7"/>
<circle cx="81.60" cy="132.20" r="0.95" fill="#5a2a00"/>
<line x1="157.2" y1="50.8" x2="157.2" y2="68.4" stroke="#747474" stroke-width="1.05"/>
<line x1="145.39999999999998" y1="50.8" x2="169.0" y2="50.8" stroke="#747474" stroke-width="1.05"/>
<line x1="157.2" y1="113.3" x2="157.2" y2="115.3" stroke="#747474" stroke-width="1.05"/>
<line x1="145.39999999999998" y1="115.3" x2="169.0" y2="115.3" stroke="#747474" stroke-width="1.05"/>
<rect x="133" y="68.4" width="48.20" height="44.90" fill="#06a93e" stroke="#0b6428" stroke-width="0.7"/>
<line x1="133" y1="98.7" x2="181.2" y2="98.7" stroke="#075f22" stroke-width="1.25"/>
<circle cx="157.20" cy="91.00" r="0.95" fill="#06401a"/>
<path d="M81.6 177V171.8H156.7V239.3" fill="none" stroke="#8a8a8a" stroke-width="1.25"/>
<text x="119.2" y="170.2" font-size="13" text-anchor="middle" fill="#000">**</text>
<line x1="81.6" y1="177.3" x2="81.6" y2="181.4" stroke="#747474" stroke-width="1.05"/>
<line x1="69.8" y1="177.3" x2="93.39999999999999" y2="177.3" stroke="#747474" stroke-width="1.05"/>
<line x1="81.6" y1="208.5" x2="81.6" y2="216.5" stroke="#747474" stroke-width="1.05"/>
<line x1="69.8" y1="216.5" x2="93.39999999999999" y2="216.5" stroke="#747474" stroke-width="1.05"/>
<rect x="57.6" y="181.4" width="48.20" height="27.10" fill="#ff8206" stroke="#9a5510" stroke-width="0.7"/>
<line x1="57.6" y1="192.9" x2="105.8" y2="192.9" stroke="#a45204" stroke-width="1.25"/>
<circle cx="81.60" cy="194.60" r="0.95" fill="#5a2a00"/>
<line x1="156.8" y1="239.3" x2="156.8" y2="243.3" stroke="#747474" stroke-width="1.05"/>
<line x1="145.0" y1="239.3" x2="168.60000000000002" y2="239.3" stroke="#747474" stroke-width="1.05"/>
<rect x="133" y="243.3" width="48.20" height="19.10" fill="#06a93e" stroke="#0b6428" stroke-width="0.7"/>
<line x1="133" y1="255" x2="181.2" y2="255" stroke="#075f22" stroke-width="1.25"/>
<circle cx="156.80" cy="252.90" r="0.95" fill="#06401a"/>
<path d="M81.6 296V290.6H156.8V371.6" fill="none" stroke="#8a8a8a" stroke-width="1.25"/>
<text x="119.7" y="289.4" font-size="13" text-anchor="middle" fill="#000">*</text>
<line x1="81.6" y1="296" x2="81.6" y2="317.2" stroke="#747474" stroke-width="1.05"/>
<line x1="69.8" y1="296" x2="93.39999999999999" y2="296" stroke="#747474" stroke-width="1.05"/>
<line x1="81.6" y1="355.2" x2="81.6" y2="366.8" stroke="#747474" stroke-width="1.05"/>
<line x1="69.8" y1="366.8" x2="93.39999999999999" y2="366.8" stroke="#747474" stroke-width="1.05"/>
<rect x="57.6" y="317.2" width="48.20" height="38.00" fill="#ff8206" stroke="#9a5510" stroke-width="0.7"/>
<line x1="57.6" y1="341.5" x2="105.8" y2="341.5" stroke="#a45204" stroke-width="1.25"/>
<circle cx="81.60" cy="336.00" r="0.95" fill="#5a2a00"/>
<line x1="156.8" y1="371.6" x2="156.8" y2="374.4" stroke="#747474" stroke-width="1.05"/>
<line x1="145.0" y1="371.6" x2="168.60000000000002" y2="371.6" stroke="#747474" stroke-width="1.05"/>
<line x1="156.8" y1="379.2" x2="156.8" y2="380.5" stroke="#747474" stroke-width="1.05"/>
<line x1="145.0" y1="380.5" x2="168.60000000000002" y2="380.5" stroke="#747474" stroke-width="1.05"/>
<rect x="133" y="374.4" width="48.20" height="4.80" fill="#06a93e" stroke="#0b6428" stroke-width="0.7"/>
<circle cx="156.80" cy="377.00" r="0.95" fill="#06401a"/>
<path d="M270.7 49.6V40H345.4V77.3" fill="none" stroke="#8a8a8a" stroke-width="1.25"/>
<text x="308" y="38.5" font-size="13" text-anchor="middle" fill="#000">**</text>
<line x1="270.7" y1="64.7" x2="270.7" y2="74.3" stroke="#747474" stroke-width="1.05"/>
<line x1="258.9" y1="74.3" x2="282.5" y2="74.3" stroke="#747474" stroke-width="1.05"/>
<rect x="246.4" y="49.6" width="48.40" height="15.10" fill="#ff8206" stroke="#9a5510" stroke-width="0.7"/>
<line x1="246.4" y1="52" x2="294.8" y2="52" stroke="#a45204" stroke-width="1.25"/>
<circle cx="270.70" cy="57.00" r="0.95" fill="#5a2a00"/>
<line x1="345.6" y1="77.3" x2="345.6" y2="93" stroke="#747474" stroke-width="1.05"/>
<line x1="333.8" y1="77.3" x2="357.40000000000003" y2="77.3" stroke="#747474" stroke-width="1.05"/>
<line x1="345.6" y1="128.2" x2="345.6" y2="128.9" stroke="#747474" stroke-width="1.05"/>
<line x1="333.8" y1="128.9" x2="357.40000000000003" y2="128.9" stroke="#747474" stroke-width="1.05"/>
<rect x="321.7" y="93" width="48.50" height="35.20" fill="#06a93e" stroke="#0b6428" stroke-width="0.7"/>
<line x1="321.7" y1="118" x2="370.2" y2="118" stroke="#075f22" stroke-width="1.25"/>
<circle cx="345.60" cy="110.60" r="0.95" fill="#06401a"/>
<path d="M270.6 185.8V177.4H345.3V212" fill="none" stroke="#8a8a8a" stroke-width="1.25"/>
<text x="308" y="173.39999999999998" font-size="13" text-anchor="middle" fill="#000">*</text>
<line x1="270.6" y1="185.8" x2="270.6" y2="189.6" stroke="#747474" stroke-width="1.05"/>
<line x1="258.8" y1="185.8" x2="282.40000000000003" y2="185.8" stroke="#b5b5b5" stroke-width="1.05"/>
<line x1="270.6" y1="196.6" x2="270.6" y2="197.3" stroke="#747474" stroke-width="1.05"/>
<line x1="258.8" y1="197.3" x2="282.40000000000003" y2="197.3" stroke="#b5b5b5" stroke-width="1.05"/>
<rect x="246.5" y="189.6" width="48.40" height="7.00" fill="#ff8206" stroke="#9a5510" stroke-width="0.7"/>
<line x1="246.5" y1="193.8" x2="294.9" y2="193.8" stroke="#a45204" stroke-width="1.25"/>
<circle cx="270.60" cy="193.00" r="0.95" fill="#5a2a00"/>
<line x1="345.3" y1="259.4" x2="345.3" y2="260" stroke="#747474" stroke-width="1.05"/>
<line x1="333.5" y1="260" x2="357.1" y2="260" stroke="#747474" stroke-width="1.05"/>
<rect x="321.8" y="212" width="48.40" height="47.40" fill="#06a93e" stroke="#0b6428" stroke-width="0.7"/>
<line x1="321.8" y1="235" x2="370.2" y2="235" stroke="#075f22" stroke-width="1.25"/>
<circle cx="345.30" cy="235.50" r="0.95" fill="#06401a"/>
<path d="M270.4 307.2V298H345.5V325.5" fill="none" stroke="#8a8a8a" stroke-width="1.25"/>
<text x="308.5" y="296.0" font-size="13" text-anchor="middle" fill="#000">*</text>
<line x1="270.5" y1="317" x2="270.5" y2="323.5" stroke="#747474" stroke-width="1.05"/>
<line x1="258.7" y1="323.5" x2="282.3" y2="323.5" stroke="#747474" stroke-width="1.05"/>
<rect x="246.4" y="307.2" width="48.40" height="9.80" fill="#ff8206" stroke="#9a5510" stroke-width="0.7"/>
<circle cx="270.50" cy="312.00" r="0.95" fill="#5a2a00"/>
<line x1="345.5" y1="325.5" x2="345.5" y2="340.5" stroke="#747474" stroke-width="1.05"/>
<line x1="333.7" y1="325.5" x2="357.3" y2="325.5" stroke="#747474" stroke-width="1.05"/>
<line x1="345.5" y1="380.1" x2="345.5" y2="382.1" stroke="#747474" stroke-width="1.05"/>
<line x1="333.7" y1="382.1" x2="357.3" y2="382.1" stroke="#747474" stroke-width="1.05"/>
<rect x="322" y="340.5" width="48.00" height="39.60" fill="#06a93e" stroke="#0b6428" stroke-width="0.7"/>
<line x1="322" y1="366.7" x2="370" y2="366.7" stroke="#075f22" stroke-width="1.25"/>
<circle cx="345.50" cy="360.20" r="0.95" fill="#06401a"/>
<line x1="5" y1="414.2" x2="545" y2="414.2" stroke="#999" stroke-width="1.1"/>
<line x1="544.6" y1="7" x2="544.6" y2="414.7" stroke="#999" stroke-width="1.1"/>
</svg>
</body></html>
